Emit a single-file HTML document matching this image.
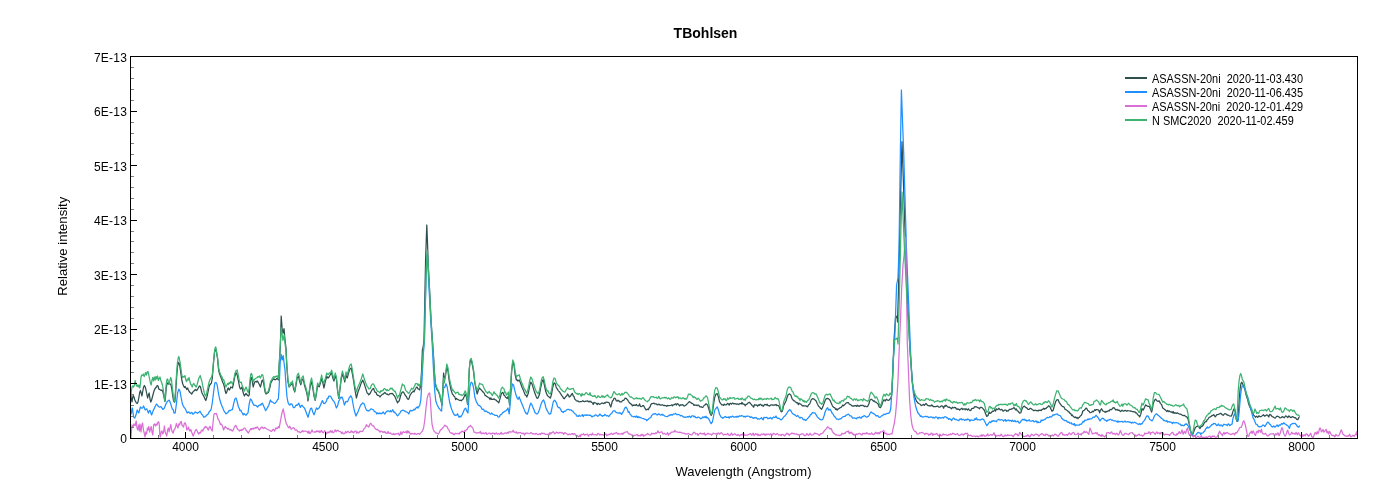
<!DOCTYPE html>
<html><head><meta charset="utf-8"><title>TBohlsen</title>
<style>
html,body{margin:0;padding:0;background:#fff;}
body{width:1400px;height:500px;overflow:hidden;position:relative;font-family:"Liberation Sans",Arial,sans-serif;}
svg{position:absolute;left:0;top:0;display:block}
svg text{font-family:"Liberation Sans",Arial,sans-serif;fill:#000}
.tk{font-size:12px}
.tky{letter-spacing:0.25px}
.lg{font-size:12.3px}
</style></head><body>
<svg width="1400" height="500" viewBox="0 0 1400 500">
<rect x="0" y="0" width="1400" height="500" fill="#fff"/>
<defs><clipPath id="cp"><rect x="131" y="57" width="1226" height="381"/></clipPath></defs>
<g clip-path="url(#cp)" fill="none" stroke-width="1.25" stroke-linejoin="round" stroke-linecap="round">
<polyline stroke="#2F4F4F" points="130.8,395 131.4,399 132,402 132.6,398 133.2,395.5 134,397 134.8,400 135.6,401.5 136.4,403 137.2,403.5 138,402 138.8,398 139.6,393 140.4,390.5 141.2,393 142,396 142.8,391 143.6,387 144.4,385.5 145.2,387 146,390 146.8,394 147.6,398 148.4,395 149.2,393 150,399 150.8,402 151.6,400 152.4,397 153.2,394 154,391 154.8,389 155.6,388 156.4,387 157.2,385.5 158,386 158.8,389 159.6,389.5 160.4,390 161.2,390.5 162,390 162.8,391.5 163.6,395 164.4,399 165,401.5 165.6,396 166.2,388 167,384 167.8,383 168.6,384 169.4,383.5 170.2,384 171,385 171.8,389 172.6,395 173.4,400 174.2,402 174.8,402 175.4,396 176,387 176.8,375 177.6,366 178.4,362.5 179,363 179.6,365 180.4,370 181.2,376 182,381 182.8,384 183.6,386 184.4,387.5 185.2,386.5 186,388 186.8,389.5 187.6,388 188.4,390 189.2,391.5 190,392.5 190.8,393 191.6,394 192.4,393 193.2,391.5 194,391 194.8,390 195.6,389.5 196.4,390.5 197.2,390 198,388.5 198.8,387 199.6,386 200.4,386.5 201.2,390 202,393 202.8,394.5 203.6,396 204.4,397.5 205.2,399.5 205.8,400.5 206.6,398 207.4,395 208.2,391 209,387 209.8,385 210.6,384 211.4,383 212.2,379 212.8,372 213.4,364 214,357.5 214.6,352 215.2,349.5 215.8,349 216.4,351.5 217,355 217.6,359 218.2,366 218.8,371 219.6,374 220.4,376 221.2,378 222,380 222.8,382.5 223.6,384 224.4,387 225.2,391 226,393.5 226.8,392 227.6,389 228.4,388 229.2,390 230,389 230.8,387 231.6,387.5 232.4,388 233.2,385 234,381 234.8,376.5 235.6,374 236.4,373 237.2,375 238,379 238.8,383 239.6,387 240.4,389 241.2,388.5 242,387 242.8,391 243.6,394 244.4,396 245.2,394.5 246,393.5 246.8,394.5 247.6,395.5 248.4,396 249.2,395 250,385 250.8,378 251.6,377.5 252.4,382 253.2,387 254,384 254.8,382 255.6,381.5 256.4,382 257.2,381 258,382 258.8,383.5 259.6,385 260.4,387 261.2,384 262,380.5 262.8,380 263.6,383 264.4,388 265.2,392.5 266,394 266.8,393.5 267.6,393 268.4,392.5 269.2,390 270,387 270.8,382.94 271.6,381.53 272.4,380.18 273.2,379.14 274,378.79 274.8,379.73 275.6,379.74 276.4,378.89 277.2,378.36 278.4,380 279.2,365 280.4,345 281.2,316 282.2,330 283,333.08 284,328.6 285,340 286,348 286.8,366 288,382 289.2,386.98 290,385.69 290.8,384.94 291.6,384.09 292.4,383 293.6,389 294.8,392 296,385 297.2,378 298.4,376.01 299.6,381.23 300.8,384.76 302,380.04 303.2,379 304.4,385 306,390.2 307.2,395 308,401 309.2,393 310.4,385 311.6,382 312.8,388 314,396 315.2,400.4 316.4,394 317.6,385 318.4,386.2 319.2,386.77 320.4,383.1 321.6,378.24 322.8,382.52 324,388 325.2,382 326.8,376 327.6,377.9 328.4,377.9 329.2,376.7 330,375.28 330.8,373.73 331.6,372.97 332.8,377.97 334,381.05 335.2,375.98 336.4,379 337.6,391 338.8,398.4 340,389 341.2,379 342.4,373.8 343.6,377.21 344.8,382 346,375 347.2,378 348.8,372 350,368.88 351.2,368 352.4,374 353.6,381 354.8,389 356.4,398 358,392 359.6,387.77 361.2,383.1 362,381.64 362.8,380.14 364,382.97 365.6,388.08 367.2,393.14 368,393.43 368.8,394.87 369.6,394.04 370.4,393 371.2,391.19 372,390.01 372.8,388.83 373.6,388.46 374.4,390.97 375.2,392.32 376,392.29 376.8,394.47 377.6,395.28 378.4,395.46 379.2,395.84 380,396.98 380.8,395.92 381.6,395.07 382.4,394.26 383.2,394.18 384,393.25 384.8,392.48 385.6,393.3 386.4,394.1 387.2,394.15 388,394.6 388.8,394.79 389.6,393.82 390.4,393.53 391.2,393.63 392,393.38 392.8,393.85 393.6,395.14 394.4,395.73 395.2,397.34 396,399.23 397.6,402.9 398.4,401.33 399.2,401 400.8,395 401.6,393.09 402.4,392.2 403.2,391.88 404,392.93 404.8,394.38 405.6,395.87 406.4,396.48 407.2,398.55 408,399.28 408.8,399.18 410,395.23 410.8,394.21 411.6,392.74 412.4,392.24 413.2,390.98 414,391.96 414.8,390.04 415.6,388.7 416.4,387.23 417.2,387.12 418,389 418.8,389.15 419.6,389.94 420.8,385 421.6,370 422.4,350 423.2,347 424,340 424.8,300 425.6,260 426.4,236 426.8,225 427.4,240 428.4,268 429.6,290 431,320 432.4,340 433.4,354 434.4,372 435.4,385 436.4,387.99 437.2,389.97 438,390.75 439.6,394.85 440.8,399.79 442,405 442.8,390 443.6,373 444.4,380 445.6,375 446.8,367 448,371 449.2,381 450.8,389 452.4,394.19 453.2,394.89 454,396.3 454.8,396.86 455.6,399.64 456.4,398.38 457.2,399.12 458,399.5 458.8,400.02 459.6,400.36 460.4,400.21 461.2,400.74 462,400.02 462.8,399.56 463.6,398.11 465.2,394.16 466.4,397 467.6,404.4 468.4,391 469.2,371 470,362 471.2,359.84 472.4,365 473.6,372 474.8,383 476,389 477.2,393.98 478.4,389.96 479.6,387.99 480.4,389.21 481.2,389.76 482,390.79 482.8,391.96 483.6,392.19 484.4,393.75 485.2,395.73 486,395.57 486.8,396.55 487.6,396.96 488.4,397.55 489.2,397.86 490,399.6 490.8,397.83 491.6,399.37 492.4,399.36 493.2,399.48 494,398.8 494.8,399.63 495.6,399.84 496.4,400.53 497.2,401.38 498,401.82 498.8,402.82 500,398.83 501.2,394.15 502.4,392.42 503.2,392.78 504,395.22 504.8,395.68 505.6,397.2 506.4,397.57 507.2,398.6 508.4,396 509.6,405 510.4,392 511.6,372 512.8,362 514,365 515.2,375 516.4,380.02 517.2,379.8 518,381.09 519.2,380.02 520.4,382.69 522,387.28 523.6,390.85 525.2,395.03 526,395.13 526.8,397.07 528.4,393 529.6,386 530.8,382.18 532,383.9 533.2,387.84 534.8,393.06 536.4,397.01 537.2,398.45 538,398.05 539.6,394 540.8,387 542,381.57 543.2,379.53 544.4,385 545.6,391 547.2,395.2 548,396.22 548.8,396.7 549.6,397.44 550.4,398.15 551.6,394 552.8,387 554,382.89 555.2,383.68 556.4,387.91 557.2,388.71 558,390.32 558.8,391.19 559.6,392.02 560.4,393.41 561.2,394.59 562,395.91 562.8,396.9 563.6,398.42 564.4,398.76 565.2,397.34 566,396.51 566.8,395.79 567.6,394.01 568.4,395.05 569.2,397 570,396.64 570.8,395.77 571.6,394.15 572.4,393.36 573.2,395.74 574,396.52 574.8,399.08 575.6,399.89 576.4,400.79 577.2,401.15 578,400.94 578.8,401.72 579.6,401.83 580.4,401.5 581.2,401.6 582,401.42 582.8,400.64 583.6,401.48 584.4,401.69 585.2,401.36 586,401.07 586.8,401.2 587.6,400.88 588.4,401.77 589.2,401.23 590,401.95 590.8,401.22 591.6,402.49 592.4,402.77 593.2,404.5 594,402.33 594.8,402.96 595.6,402.92 596.4,403.46 597.2,404.62 598,403.25 598.8,403.75 599.6,404.48 600.4,404.04 601.2,403.48 602,402.92 602.8,403.28 603.6,403.6 604.4,402.7 605.2,403.22 606,402.15 606.8,402.24 607.6,402.34 608.4,402.37 609.2,403.02 610,405.21 610.8,407 612.4,401 613.2,400.2 614,398.25 614.8,398.16 615.6,399.19 616.4,400.99 617.2,401.02 618,400.24 618.8,400.59 619.6,401.85 620.4,401.84 621.2,401.96 622,401.18 622.8,400.31 623.6,400.47 624.4,399.37 625.2,398.12 626,398.32 626.8,398.97 627.6,399.84 628.4,401.22 629.2,402.49 630,403.41 630.8,403.82 631.6,404.48 632.4,405.85 633.2,404.92 634,405.5 634.8,404.91 635.6,405.43 636.4,404.45 637.2,405.74 638,405.86 638.8,405.55 639.6,403.89 640.4,406.44 641.2,406.67 642,406.26 642.8,405.56 643.6,405.64 644.4,407.23 645.2,408.57 646,409.93 646.8,409.63 647.6,409.16 648.4,409.65 649.2,407.75 650,407.04 650.8,404.7 651.6,403.56 652.4,403.6 653.2,403.46 654,403.09 654.8,403.95 655.6,403.91 656.4,403.89 657.2,404.96 658,404.7 658.8,404.09 659.6,404.65 660.4,405.15 661.2,405.1 662,404.79 662.8,404.91 663.6,405.52 664.4,405.32 665.2,405.68 666,405.59 666.8,406.37 667.6,405.4 668.4,405.73 669.2,405.72 670,405.51 670.8,405.27 671.6,404.93 672.4,405.72 673.2,404.78 674,404.93 674.8,404.16 675.6,403.93 676.4,405.06 677.2,403.64 678,403.85 678.8,404.86 679.6,405.97 680.4,404.75 681.2,405.24 682,404.85 682.8,404.73 683.6,405.79 684.4,406.02 685.2,405.4 686,405.22 686.8,404.14 687.6,403.42 688.4,402.6 689.2,401.55 690,402.16 690.8,402.53 691.6,403.37 692.4,403.4 693.2,404 694,405.44 694.8,404.87 695.6,405.25 696.4,405.02 697.2,405.67 698,405.11 698.8,405.18 699.6,406.72 700.4,406.83 701.2,406.58 702,407.36 702.8,407.34 703.6,406.25 704.4,405.02 705.2,404.89 706,403.73 706.8,404.36 707.6,405.04 708.8,408.79 710,413.17 711.2,415.37 712.4,413 713.6,404 714.8,397 716,394.05 717.2,393.56 718.4,396.91 719.6,401.94 720.4,403.21 721.2,404.16 722,405.01 722.8,404.86 723.6,405.42 724.4,404.12 725.2,404.84 726,404.88 726.8,404.27 727.6,403.38 728.4,403.91 729.2,405.16 730,403.3 730.8,403.39 731.6,404.19 732.4,402.99 733.2,403.28 734,404 734.8,403.53 735.6,403.85 736.4,404.26 737.2,403.85 738,404.08 738.8,404.59 739.6,403.68 740.4,403.58 741.2,404.06 742,402.34 742.8,404.11 743.6,403.97 744.4,404.33 745.2,405.83 746,404.29 746.8,404.35 748,402.96 749.2,402.23 750.4,403.29 751.2,404.28 752,405.42 752.8,406.07 753.6,407.22 754.4,404.71 755.2,405.09 756,404.99 756.8,405.08 757.6,406.26 758.4,404.93 759.2,405.34 760,404.33 760.8,404.42 761.6,405.53 762.4,405.24 763.2,406.35 764,405.26 764.8,404.38 765.6,404.59 766.4,405.14 767.2,404.21 768,405.6 768.8,405.51 769.6,406.1 770.4,405.33 771.2,404.87 772,404.84 772.8,405.34 773.6,405.09 774.4,404.92 775.2,405.01 776,404.38 776.8,405.56 777.6,405.28 778.8,405.84 780,409.09 781.2,411.85 782.4,411.15 783.6,405.74 784.8,403.27 786,401 787.2,397.03 788.4,394.27 789.6,393.95 790.8,394.9 792,398.55 792.8,399.57 793.6,400.71 794.4,400.77 795.2,401.67 796,402.22 796.8,402.94 797.6,402.68 798.4,404.66 799.2,403.18 800,403.79 800.8,404.17 801.6,404.87 802.4,405.97 803.2,405.69 804,405.92 804.8,405.84 805.6,405.88 806.4,406.05 807.2,406.83 808,406.03 808.8,404.43 809.6,403.98 810.4,402.17 811.2,399.88 812.4,398.64 813.6,398.78 814.8,399.82 816,400.8 817.2,403.43 818,405.07 818.8,406.49 819.6,407 820.4,408.32 821.6,409.34 822.8,406.89 824,403.62 825.2,400.34 826.4,398.51 827.6,398.38 828.8,399.05 830,400.19 831.2,403.11 832.4,405.81 833.2,406.9 834,407.33 834.8,407.71 835.6,409.39 836.4,408.89 837.2,410.16 838,408.95 838.8,408.94 839.6,408.03 840.4,407.62 841.2,407.25 842,406.25 842.8,405.03 843.6,405.73 844.4,404.92 845.2,404.15 846,403.1 846.8,402.83 847.6,402.64 848.4,402.57 849.2,404.03 850,404.32 850.8,404.81 851.6,405.59 852.4,406.05 853.2,405.8 854,406.23 854.8,405.55 855.6,405.63 856.4,406.31 857.2,405.04 858,406.13 858.8,405.83 859.6,406.25 860.4,405.29 861.2,405.42 862,405.7 862.8,405.25 863.6,405.72 864.4,406.51 865.2,406.02 866,406.57 866.8,406.5 867.6,406.55 868.8,404.04 870,400.1 871.2,399.26 872.4,400.01 873.6,401.29 874.4,400.88 875.2,402.03 876,402.13 876.8,402.89 878,403.72 879.2,406.94 880.4,407.71 881.6,405.43 882.8,401.78 884,399.7 885.2,401.03 886.4,399.1 887.6,400.18 888.8,400.38 890,399 891.2,397.42 891.8,394 892.5,380 894,340 895.5,318 897,316 897.5,322 898.5,290 900,220 901.5,160 902,141.6 903,170 905,230 907.5,300 910,350 912.4,382 913.6,391 914.8,397 916.4,401 918,403 919.6,404 920.4,404.28 921.2,405.56 922,405.28 922.8,404.84 923.6,404.41 924.4,405.44 925.2,404.33 926,403.43 926.8,404.39 927.6,405.37 928.4,405.55 929.2,405.9 930,405.73 930.8,406.03 931.6,404.99 932.4,405.41 933.2,406.7 934,406.62 934.8,406.51 935.6,406.72 936.4,406.37 937.2,405.97 938,406.41 938.8,407.08 939.6,407.11 940.4,406.69 941.2,405.96 942,405.87 942.8,406.57 943.6,408.21 944.4,405.86 945.2,406.29 946,405.19 946.8,406.04 947.6,406.68 948.4,407.28 949.2,407.11 950,407.32 950.8,408.34 951.6,408.84 952.4,407.25 953.2,407.78 954,407.58 954.8,407.33 955.6,407.57 956.4,409.2 957.2,408.92 958,409.35 958.8,409.02 959.6,410.19 960.4,409.24 961.2,408.73 962,408.23 962.8,409.58 963.6,408.88 964.4,408.8 965.2,409.75 966,408.73 966.8,409.33 967.6,410.01 968.4,408.77 969.2,409.82 970,410.63 970.8,410.37 971.6,408.87 972.4,408.3 973.2,408.46 974,407.68 974.8,406.56 975.6,406.84 976.4,406.76 977.2,407.32 978,407.82 978.8,407.92 979.6,408.73 980.4,407.28 981.2,407.44 982,407.73 982.8,408.3 983.6,409.53 984.4,410.23 985.6,413.72 986.8,416.38 988,415.47 989.2,411.97 990,413.44 990.8,412.9 991.6,412.36 992.4,411.14 993.2,411.4 994,410.85 994.8,409.63 995.6,411.1 996.4,408.85 997.2,409.3 998,409.53 998.8,408.21 999.6,409.14 1000.4,409.96 1001.2,409.48 1002,409.65 1002.8,410.91 1003.6,411.11 1004.4,410.18 1005.2,410.16 1006,410.11 1006.8,411.36 1007.6,410.72 1008.4,410.98 1009.2,409.45 1010,409.48 1010.8,409.47 1011.6,408.79 1012.4,408.86 1013.2,408.16 1014,407.58 1014.8,408.7 1015.6,409.94 1016.4,409.01 1017.2,410.84 1018,411.02 1018.8,412.13 1019.6,413.21 1020.8,412.73 1022,409.02 1023.2,406.71 1024.4,406.15 1025.2,407.07 1026,407.67 1026.8,407.95 1027.6,409.09 1028.4,409.41 1029.2,409.46 1030,408.47 1030.8,408.44 1031.6,409.04 1032.4,409.72 1033.2,410.19 1034,410.81 1034.8,410.22 1035.6,410.2 1036.4,410.76 1037.2,410.48 1038,411.05 1038.8,410.06 1039.6,410.33 1040.4,410.22 1041.2,410.59 1042,409.4 1042.8,409.49 1043.6,408.21 1044.4,409.18 1045.2,408.5 1046,408.58 1046.8,407.36 1047.6,407.23 1048.4,405.73 1049.6,406.33 1050.8,408.65 1052,411.25 1053.2,410.28 1054.4,405.71 1055.6,401.81 1056.8,399.76 1058,399.58 1059.2,402.28 1060.4,404.04 1061.6,405.73 1062.8,406.63 1064,406.91 1065.2,409.45 1066,409.63 1066.8,410.25 1067.6,410.72 1068.4,411.81 1069.2,411.95 1070,413.36 1070.8,413.55 1071.6,415.63 1072.4,415.03 1073.2,416.5 1074,416.91 1074.8,417.6 1075.6,416.96 1076.4,418.13 1077.2,417.45 1078,418.77 1078.8,417.47 1079.6,417.27 1080.4,415.82 1081.2,415.52 1082,413.76 1082.8,410.96 1083.6,410.55 1084.4,410.21 1085.2,409.23 1086,407.96 1086.8,408.43 1087.6,410.3 1088.4,410.9 1089.2,411.41 1090,412.76 1090.8,412.56 1091.6,412.28 1092.4,411.18 1093.2,411.73 1094,410.83 1094.8,409.73 1095.6,410.4 1096.4,409.51 1097.2,409.73 1098,409.85 1098.8,410.26 1099.6,412.92 1100.4,410.42 1101.6,408.76 1102.8,410.95 1103.6,411.23 1104.4,411.65 1105.2,412.37 1106,411.26 1106.8,411.89 1107.6,411.22 1108.4,410.72 1109.2,411.1 1110,409.39 1110.8,409.55 1111.6,409.71 1112.4,408.52 1113.2,407.8 1114,407.66 1114.8,408.58 1115.6,409.79 1116.4,409.9 1117.2,409.31 1118,410.36 1118.8,410.18 1119.6,410.45 1120.4,411.57 1121.2,411.05 1122,410.21 1122.8,410.91 1123.6,411.19 1124.4,410.69 1125.2,410.37 1126,410.75 1126.8,411.28 1127.6,410.56 1128.4,410.76 1129.2,410.97 1130,411.01 1130.8,410.9 1131.6,411.22 1132.4,411.63 1133.2,411.58 1134,412.04 1134.8,411.73 1135.6,412.86 1136.4,412.8 1137.2,413.91 1138,415.01 1138.8,415.46 1139.6,416.92 1140.8,414.21 1142,408.61 1143.2,409.97 1144.4,407.61 1145.6,404.94 1146.8,405.66 1148,406.48 1149.2,406.31 1150.4,408.88 1151.6,412.12 1152.4,408.99 1153.2,403.77 1154.4,400.51 1155.6,399.17 1156.8,400.68 1158,401.39 1159.2,400.88 1160.4,403.37 1161.6,404.69 1162.8,408.1 1163.6,408.39 1164.4,409.38 1165.2,409.79 1166,410.67 1166.8,411.48 1167.6,410.38 1168.4,411.69 1169.2,410.82 1170,411.63 1170.8,412.04 1171.6,411.87 1172.4,412.78 1173.2,411.43 1174,413.41 1174.8,412.6 1175.6,413.1 1176.4,413.47 1177.2,412.84 1178,413.27 1178.8,413.7 1179.6,414.11 1180.4,414.12 1181.2,414.33 1182,415.2 1182.8,415.48 1183.6,415.67 1184.4,415.34 1185.2,415.91 1186,416.63 1186.8,416.85 1188,418.91 1189.2,424 1190.4,430.4 1191.6,433.88 1192.8,434.32 1194,431.14 1195.2,427.79 1196.4,426.59 1197.6,426.18 1198.4,426.26 1199.2,427.5 1200,428.51 1200.8,426.72 1201.6,426.69 1202.4,425.96 1203.2,425.23 1204,423.31 1204.8,422.18 1205.6,421.78 1206.4,421.57 1207.2,419.83 1208,419.11 1208.8,417.78 1209.6,417.13 1210.4,416.97 1211.2,416.37 1212,415.33 1212.8,415.72 1213.6,414.76 1214.4,415.32 1215.2,416.96 1216,415.9 1216.8,414.72 1217.6,414.63 1218.4,414.44 1219.2,414 1220,413.63 1220.8,413.36 1221.6,414.01 1222.4,415 1223.2,415.25 1224,414.37 1224.8,413.63 1225.6,413.98 1226.4,414.11 1227.2,415.2 1228,414.97 1228.8,415.46 1229.6,416 1231.2,416.12 1232.04,414.64 1232.88,411.65 1233.72,409.1 1234.56,408.76 1235.4,412 1236.24,418.3 1237.08,421.5 1237.92,420.4 1238.48,412 1239.32,398 1240.16,388.2 1241,383.31 1241.84,382.25 1242.68,384.1 1243.52,386.12 1244.36,387.76 1245.2,390.94 1246.04,394.6 1246.88,397.43 1247.72,399.86 1248.56,403.62 1249.4,406.06 1250.24,407.65 1251.08,409.46 1251.92,412.59 1252.76,413.1 1253.6,415.1 1254.44,415.9 1255.56,417.22 1256.68,416.13 1257.8,417.33 1258.92,415.77 1260.04,416.66 1261.16,416.62 1262.28,415.64 1263.4,414.76 1264.52,416.17 1265.64,415.66 1266.76,414.76 1267.6,415.21 1268.72,416.95 1269.84,414.33 1270.96,414.93 1272.08,416.59 1273.2,416.95 1274.32,417.84 1275.44,418.04 1276.56,416.26 1277.68,416.24 1278.8,416.81 1279.92,417.85 1281.04,417.73 1282.16,416.68 1283.28,417.12 1284.4,417.76 1285.52,415.97 1286.64,416.29 1287.76,417.67 1288.88,415.88 1290,417.06 1291.12,417.57 1292.24,416.72 1293.36,416.95 1294.48,417.85 1295.6,417.74 1296.72,419.45 1297.84,419.61 1298.96,417.38"/>
<polyline stroke="#1E90FF" points="130.4,406 131.2,414 132.4,408 133.6,417 134.8,417.98 136,414.78 137.2,410 138,411.62 138.8,413 140.4,407 141.2,407.7 142,408.4 142.8,407.61 143.6,405.98 145.2,409.9 146,409.31 146.8,408.9 148.4,413.07 149.2,410.9 150,410.34 151.6,414.94 153.2,410.63 154.8,407.14 155.6,405.69 156.4,404.03 157.2,404.87 158,406.07 158.8,406.68 159.6,407.14 160.4,406.68 161.2,406.93 162,408.04 162.8,409.44 163.6,408.88 164.4,408.05 166,403.83 166.8,402.44 167.6,401.13 168.4,400.72 169.2,400.06 170.8,404.07 172.4,409.24 173.2,409.66 174,413.03 175.2,413 176.4,404 177.6,393 178.8,389.13 180,391 181.2,398 182.4,404 183.2,405.81 184,407.05 184.8,408.23 185.6,409.37 186.4,411.37 187.2,413.06 188,412.22 188.8,411.91 189.6,413.05 190.4,413.5 191.2,412.68 192,412.46 192.8,414.2 193.6,413.95 194.4,412.93 195.2,411.86 196,412.53 196.8,412.67 197.6,413.29 198.4,412.44 199.2,411.94 200,411.22 200.8,412.58 201.6,414.21 202.4,414.74 203.2,416.12 204,417.31 204.8,416.88 205.6,416.31 206.4,415.46 207.2,414.82 208,414.32 208.8,412.62 209.6,411.14 210.4,410.78 211.2,409 212.4,402 213.6,392 214.8,383 216,382.43 217.2,385 218.4,393 219.6,399 221.2,404.25 222.8,407.88 223.6,409.92 224.4,411.66 225.2,412.55 226,413.93 226.8,413.29 227.6,412.79 228.4,411.57 229.2,410.39 230,410.77 230.8,410.26 231.6,409.62 232.4,409.54 233.6,404.03 234.8,399.18 236,397.89 237.2,401.74 238.4,406.74 239.2,408.23 240,410.7 240.8,410.2 241.6,412.09 242.4,413.07 243.2,414.9 244,413.66 244.8,414.07 245.6,415.06 246.4,414.8 247.2,413.54 248,413 249.2,404 250.4,398.92 251.6,400.23 252.8,403.15 253.6,404.68 254.4,405.46 255.2,405.41 256,405.38 256.8,406.21 257.6,407.2 258.4,405.85 259.2,405.24 260,404.92 260.8,405.13 261.6,403.67 262.4,403.24 264,406.82 264.8,408.7 265.6,410.64 266.4,409.48 267.2,408.08 268,406.63 268.8,405.24 270.4,400 271.2,401.21 272,402.1 272.8,402.15 273.6,402.92 274.4,403.47 275.2,403.22 276,402.17 276.8,401.09 277.6,399.58 278.4,399 279.2,386 280.2,362 281.2,354.4 282.2,360 283.2,355.6 284.2,364 285,370 286,385 287,397 288,402.4 289.2,404.77 290,405.07 290.8,403.97 291.6,403.82 292.4,404.84 293.2,407.23 294,407.87 294.8,407.24 295.6,405.86 296.4,404.84 297.2,405.35 298,404.4 298.8,403.1 299.6,405.46 300.4,407.42 301.2,405.59 302,405.25 302.8,406.4 303.6,407.26 304.4,408.01 305.2,409.75 306.8,414.03 308,417.27 309.2,413 310.4,408.89 311.6,408.11 312.8,412.01 314,414.82 315.2,411.62 316.4,407.87 317.6,409.27 318.4,408.21 319.2,407.88 320.8,404.14 321.6,402.59 322.4,400.57 323.2,402.19 324,403.73 324.8,403.39 325.6,402.53 326.4,401.12 327.2,398.48 328,398.52 328.8,396.06 329.6,396.07 330.4,396.07 331.2,397.26 332,398.93 332.8,400.02 333.6,401.01 334.4,402.15 335.2,404.14 336.4,407.98 337.6,405.78 338.8,400.99 339.6,399.8 340.4,397.43 341.2,397.81 342,396.89 343.2,400.1 344.4,405.07 346,401.29 346.8,401.72 347.6,401.87 349.2,397.7 350,397.05 350.8,395.76 352,398 353.2,405 354.4,411 356,416 356.8,413.91 357.6,412.85 359.2,408.65 360.8,404.69 361.6,404.41 362.4,402.93 363.2,403.26 364,403.64 365.6,408.15 366.4,409.86 367.2,410.78 368,410.43 368.8,410.99 369.6,410.43 370.4,409.33 371.2,408.8 372,409.2 372.8,409.75 373.6,409.89 374.4,411.73 375.2,411.73 376,412.23 376.8,413.98 377.6,412.89 378.4,413.69 379.2,412.96 380,413.85 380.8,413.12 381.6,413.68 382.4,413.1 383.2,411.94 384,413.14 384.8,414.18 385.6,412.68 386.4,411.73 387.2,410.99 388,410.77 388.8,411.31 389.6,411.59 390.4,410.51 391.2,411.86 392,410.82 392.8,409.72 393.6,412.09 394.4,411.82 395.2,413.08 396,413.74 396.8,415.01 397.6,415.86 398.4,415.12 399.2,413.8 400,413.1 400.8,411.36 401.6,410.71 402.4,410.27 403.2,410.24 404,410.61 404.8,411.05 405.6,411.75 406.4,411.94 407.2,412.09 408,412.84 408.8,413.97 410,410.79 410.8,410.39 411.6,410.9 412.4,410.7 413.2,410.15 414,409.21 414.8,409.94 415.6,408.52 416.4,407.62 417.2,406.98 418,408.13 418.8,406.52 419.6,406 420.8,400 422,380 423.2,356 424.4,340 425.4,300 426.2,272 427,255 427.8,264 429,288 430.6,318 432,340 432.8,356 433.8,376 434.8,392 435.8,401 437.2,404.99 438,406.36 438.8,408.27 439.6,408.71 440.4,410.15 441.6,411 442.4,400 443.6,388 444.8,387.23 446,383.73 447.2,387 448.4,395 449.6,402 451.2,408 452.8,412.11 453.6,413.59 454.4,414.84 455.2,415.52 456,415.15 456.8,415.02 457.6,413.73 458.4,416.17 459.2,417.27 460,416.07 460.8,416.87 461.6,415.65 462.4,414.2 464,410.33 464.8,408.84 465.6,408.09 466.8,411.13 468,413 468.8,400 470,386 471.2,382.12 472.4,383.14 473.6,388 474.8,397 476.4,402.02 477.2,403.13 478,404.8 478.8,405.52 479.6,405.69 480.4,406.42 481.2,407.46 482,409.17 482.8,409.42 483.6,409.15 484.4,410.93 485.2,411.58 486,410.99 486.8,411.51 487.6,412.34 488.4,412.38 489.2,412.92 490,413.91 490.8,414.05 491.6,412.97 492.4,413.89 493.2,414.51 494,414.66 494.8,415.38 495.6,415.35 496.4,415.42 497.2,415.43 498,416.99 498.8,417.08 499.6,416.6 500.4,414.56 501.2,414.46 502,413.81 502.8,412.39 503.6,412.49 504.4,411.38 505.2,411.19 506,410.76 506.8,410.1 508,408 509.2,414 510,406 511.2,392 512.4,384 513.6,385.03 514.8,390.4 516,395.07 517.6,398.99 518.4,399.07 519.2,396.83 520,399.37 520.8,401.17 522.4,405.05 524,409.13 525.6,413.03 526.4,413.19 527.2,414.33 528.4,411.17 529.6,406.54 530.8,403.11 532,404.94 533.2,408.14 534,409.7 534.8,412.43 535.6,413.06 536.4,413.83 537.2,413.84 538,413.11 539.6,409.18 541.2,403.67 542.4,401.19 543.6,399.94 544.8,403.06 546,408.02 546.8,409.96 547.6,411.16 548.4,412.79 549.2,413.94 550,414.16 550.8,413.25 552,408 553.2,402 554.4,400.18 555.6,401.22 556.8,403.99 557.6,406.64 558.4,407.51 559.2,407.43 560,408.29 560.8,409.69 561.6,411.39 562.4,411.73 563.2,412.62 564,411.22 564.8,411.41 565.6,411.23 566.4,410.01 567.2,409.51 568,409.29 568.8,409.41 569.6,410.09 570.4,409.91 571.2,409.82 572,410.87 572.8,411.16 573.6,412.36 574.4,413.03 575.2,414.03 576,414.38 576.8,416.18 577.6,416.1 578.4,416.3 579.2,415.15 580,416.16 580.8,416.03 581.6,415.75 582.4,414.55 583.2,416.57 584,415.14 584.8,415.05 585.6,414.79 586.4,415.43 587.2,414.8 588,415.33 588.8,415.02 589.6,415.4 590.4,415.16 591.2,416 592,416.92 592.8,416.23 593.6,416.07 594.4,415.82 595.2,414.96 596,415.04 596.8,415.42 597.6,416.27 598.4,415.93 599.2,414.98 600,414 600.8,415.13 601.6,415.55 602.4,416.32 603.2,415.55 604,415.64 604.8,414.42 605.6,415.09 606.4,415.94 607.2,415.44 608,415.83 608.8,416.6 609.6,415.49 610.4,414.43 611.2,413.66 612,412.93 612.8,411.28 613.6,410.95 614.4,410.74 615.2,411.36 616,412.35 616.8,412.71 617.6,412.8 618.4,413.06 619.2,413.14 620,412.65 620.8,413.53 621.6,414.34 622.4,412.92 623.6,411 624.8,407.92 626,407.04 627.2,408.92 628.4,412.48 629.2,411.84 630,414.13 630.8,414.8 631.6,416.15 632.4,416.25 633.2,416.76 634,416.79 634.8,416.36 635.6,417.05 636.4,415.98 637.2,417.51 638,416.45 638.8,417.64 639.6,417.12 640.4,417.6 641.2,417.8 642,418.27 642.8,418.49 643.6,418.65 644.4,419.14 645.2,419.44 646,419.28 646.8,420.8 647.6,419.53 648.4,419.49 649.2,418.12 650,417.87 650.8,417.52 651.6,415.54 652.4,414.86 653.2,413.97 654,414.13 654.8,413.67 655.6,413.59 656.4,414.49 657.2,415.06 658,414.42 658.8,413.76 659.6,414.67 660.4,415.03 661.2,414.98 662,414.04 662.8,415.26 663.6,414.93 664.4,415.91 665.2,416.14 666,416.34 666.8,416.51 667.6,416.59 668.4,415.58 669.2,415.6 670,414.73 670.8,415.12 671.6,414.53 672.4,415.13 673.2,414.14 674,414.11 674.8,413.85 675.6,413.32 676.4,414.52 677.2,414.8 678,414.26 678.8,414.68 679.6,414.76 680.4,415.94 681.2,415.71 682,415.56 682.8,416.56 683.6,417.08 684.4,416.99 685.2,417.41 686,417.19 686.8,417.14 687.6,416.57 688.4,417.09 689.2,416.16 690,416.52 690.8,417.51 691.6,416.18 692.4,415.79 693.2,415.81 694,416.94 694.8,416.13 695.6,417.56 696.4,417.51 697.2,417.94 698,416.99 698.8,417.28 699.6,417.72 700.4,418.64 701.2,418.67 702,418 702.8,416.98 703.6,417.61 704.4,416.69 705.2,417.61 706,416.28 706.8,417.86 707.6,417.58 708.8,419.13 710,421.56 711.2,423.68 712.4,422 713.6,416 714.8,410 716,408.35 717.2,406.79 718.4,409.92 719.6,414.52 720.4,415.91 721.2,417.25 722,417.44 722.8,418.41 723.6,417.55 724.4,417.04 725.2,416.58 726,417.29 726.8,417.24 727.6,417.48 728.4,416.91 729.2,418.21 730,416.54 730.8,416.8 731.6,417.11 732.4,416.13 733.2,416.47 734,417.21 734.8,417.02 735.6,416.66 736.4,417.15 737.2,416.14 738,417.14 738.8,416.25 739.6,415.95 740.4,416.05 741.2,415.74 742,415.85 742.8,415.9 743.6,416.8 744.4,416.39 745.2,416.99 746,416.14 746.8,416.31 748,416 749.2,416.49 750.4,417.47 751.2,416.75 752,417.25 752.8,417.91 753.6,418.33 754.4,417.65 755.2,417.82 756,417.48 756.8,418.29 757.6,419.08 758.4,418.7 759.2,419.18 760,418.85 760.8,418.25 761.6,417.56 762.4,419.26 763.2,419.8 764,417.3 764.8,417.56 765.6,417.63 766.4,417.18 767.2,417.74 768,418.77 768.8,418.12 769.6,418.39 770.4,417.45 771.2,418.25 772,419.02 772.8,417.7 773.6,417 774.4,417.34 775.2,417.37 776,416.01 776.8,417.73 777.6,418.35 778.8,418.17 780,419.13 781.2,419.91 782.4,418.88 783.6,416.98 784.8,416.11 786,414.65 787.2,412.71 788.4,410.98 789.6,409.55 790.8,410.62 792,412.82 792.8,413.81 793.6,414.3 794.4,414.62 795.2,415.14 796,415.89 796.8,416.45 797.6,415.31 798.4,416.37 799.2,417.28 800,418.05 800.8,417.33 801.6,417.76 802.4,417.92 803.2,419.77 804,419.69 804.8,419.46 805.6,420.55 806.4,419.92 807.2,418.89 808,418.14 808.8,416.92 809.6,416.43 810.4,414.62 811.2,414.44 812.4,412.68 813.6,412.81 814.8,412.75 816,414.64 817.2,416.64 818,417.56 818.8,418.34 819.6,419.05 820.4,419.65 821.6,419.94 822.8,419.19 824,416.03 825.2,411.78 826.4,409.25 827.6,407.7 828.8,410.25 830,409.15 831.2,411.14 832.4,413.63 833.2,414.32 834,415.89 834.8,416.81 835.6,417.55 836.4,419.02 837.2,419.03 838,419.25 838.8,419.63 839.6,418.91 840.4,418.99 841.2,418.57 842,417.61 842.8,416.87 843.6,416.72 844.4,416.26 845.2,416.29 846,415.03 846.8,415.1 847.6,414.53 848.4,414.15 849.2,414.9 850,415.91 850.8,415.95 851.6,416.29 852.4,418.15 853.2,418.06 854,417.96 854.8,417.94 855.6,418.52 856.4,418.79 857.2,417.66 858,417.47 858.8,417.78 859.6,416.99 860.4,417.88 861.2,418.24 862,416.66 862.8,416.76 863.6,415.97 864.4,415.66 865.2,416.27 866,416.86 866.8,417.18 867.6,416.62 868.8,415.96 870,413.44 871.2,411.97 872.4,413.07 873.6,413.27 874.4,414.28 875.2,414.77 876,415.98 876.8,415.54 878,415.83 879.2,417.42 880.4,417.08 881.6,415.88 882.8,415.41 884,414.2 885.2,414.57 886.4,413.66 887.6,413.38 888.8,413.47 890,411.71 890.8,408 891.6,396 892.4,380 893.2,360 894.5,345 896.6,285 898,278 899,250 900.4,150 901.4,90 903.8,156 906.5,250 910.5,350 912,380 913.2,392 914.4,400 915.6,406 916.8,410 918,413 919.6,414.85 920.4,416.33 921.2,415.98 922,416.75 922.8,417.25 923.6,416.76 924.4,416.58 925.2,416.24 926,416.85 926.8,416.66 927.6,416.37 928.4,417.44 929.2,417.59 930,417.03 930.8,416.89 931.6,417 932.4,417.76 933.2,417.14 934,418.04 934.8,417.9 935.6,416.9 936.4,417.06 937.2,417.51 938,418.92 938.8,417.34 939.6,417.89 940.4,417.71 941.2,418.23 942,417.8 942.8,417.44 943.6,418.07 944.4,416.77 945.2,416.84 946,416.86 946.8,417.8 947.6,417.78 948.4,419.33 949.2,418.55 950,419.18 950.8,419.43 951.6,420.62 952.4,419.3 953.2,418.17 954,418.1 954.8,419.43 955.6,419.74 956.4,419.37 957.2,419.98 958,420.42 958.8,420.65 959.6,419.11 960.4,419.37 961.2,418.57 962,419.8 962.8,419.46 963.6,419.34 964.4,420.34 965.2,420.06 966,419.51 966.8,420.09 967.6,418.97 968.4,419.38 969.2,419.86 970,421.21 970.8,419.85 971.6,420.12 972.4,420.23 973.2,420.28 974,420.26 974.8,418.74 975.6,419.4 976.4,417.8 977.2,419.89 978,419.5 978.8,419.77 979.6,419.8 980.4,420.03 981.2,419.64 982,418.97 982.8,419.17 983.6,419.35 984.4,420.97 985.6,423.24 986.8,425.7 988,424.23 989.2,422.2 990,421.92 990.8,422.71 991.6,421.06 992.4,421.47 993.2,420.5 994,421.18 994.8,420.87 995.6,421.26 996.4,421.77 997.2,420.18 998,419.79 998.8,419.19 999.6,419.97 1000.4,420.06 1001.2,419.53 1002,419.83 1002.8,420.08 1003.6,421.19 1004.4,420.16 1005.2,419.44 1006,421.38 1006.8,420.41 1007.6,420.36 1008.4,419.95 1009.2,420.88 1010,420.39 1010.8,420.51 1011.6,421.22 1012.4,420.11 1013.2,421.35 1014,421.51 1014.8,420.35 1015.6,421.64 1016.4,421.78 1017.2,421.45 1018,421.1 1018.8,422.79 1019.6,423.16 1020.4,422.28 1021.2,420.79 1022,420.08 1022.8,419.14 1023.6,419.95 1024.4,419.09 1025.2,420.38 1026,419.94 1026.8,421.01 1027.6,420.69 1028.4,420.72 1029.2,419.66 1030,421.04 1030.8,421.24 1031.6,421.12 1032.4,420.7 1033.2,420.64 1034,421.84 1034.8,421.61 1035.6,420.94 1036.4,421.13 1037.2,422.8 1038,421.48 1038.8,422.73 1039.6,422.48 1040.4,422.19 1041.2,420 1042,420.88 1042.8,419.98 1043.6,420.21 1044.4,419.38 1045.2,419.3 1046,418.31 1046.8,417.79 1047.6,417.37 1048.4,417.72 1049.2,417.2 1050,416.54 1050.8,417 1051.6,416.9 1052.4,415.49 1053.2,414.74 1054,415.17 1054.8,414.6 1055.6,414.27 1056.4,414.17 1057.2,413.98 1058,414.82 1059.2,415.44 1060.4,415.74 1061.6,417.97 1062.8,419.35 1064,420.07 1064.8,420.69 1065.6,420.68 1066.4,420.59 1067.2,421.84 1068,422.44 1068.8,421.97 1069.6,423.15 1070.4,423.22 1071.2,422.68 1072,424.24 1072.8,423.89 1073.6,424.78 1074.4,423.6 1075.2,425.75 1076,424.91 1076.8,425.16 1077.6,425.08 1078.4,425.05 1079.2,425.23 1080,424.19 1080.8,424.36 1081.6,424 1082.4,422.63 1083.2,421.25 1084,421.91 1084.8,420.2 1085.6,420.34 1086.4,420.01 1087.2,419.79 1088,418.79 1088.8,419.71 1089.6,418.76 1090.4,418.75 1091.2,418.97 1092,418.45 1092.8,417.41 1093.6,417.04 1094.4,417.39 1095.2,416.4 1096,415.23 1096.8,416.22 1097.6,416.9 1098.8,418.93 1100,420.87 1101.2,419.19 1102.4,418.21 1103.6,418.52 1104.4,419.93 1105.2,420.04 1106,420.34 1106.8,421.4 1107.6,420.17 1108.4,420.1 1109.2,419.9 1110,419.33 1110.8,419.3 1111.6,420.17 1112.4,419.99 1113.2,420.62 1114,420.79 1114.8,420.94 1115.6,420.84 1116.4,421.31 1117.2,422.15 1118,420.91 1118.8,422.02 1119.6,421.59 1120.4,421.68 1121.2,421.56 1122,421.28 1122.8,422.01 1123.6,422.06 1124.4,421.41 1125.2,421.06 1126,422.04 1126.8,422 1127.6,421.6 1128.4,421.59 1129.2,422.32 1130,421.94 1130.8,422.44 1131.6,423.18 1132.4,422.22 1133.2,422.8 1134,422.75 1134.8,422.21 1135.6,422.76 1136.4,423.3 1137.2,423.77 1138,424.16 1138.8,424.31 1139.6,423.56 1140.4,424.64 1141.2,423.58 1142,423.93 1142.8,422.22 1143.6,421.32 1144.8,419.9 1146,417.13 1147.2,415.78 1148.4,416.42 1149.6,419.23 1150.8,420.11 1152,420.97 1153.2,418.96 1154.4,415.91 1155.6,414.42 1156.8,413.84 1158,415.23 1159.2,416.07 1160.4,417.29 1161.6,418.46 1162.8,419.08 1163.6,420.54 1164.4,420.28 1165.2,420.99 1166,421.21 1166.8,420.59 1167.6,422.14 1168.4,421.79 1169.2,421.62 1170,422.09 1170.8,422.13 1171.6,422.67 1172.4,423.62 1173.2,422.16 1174,422.69 1174.8,423.04 1175.6,422.71 1176.4,422.61 1177.2,423 1178,423.04 1178.8,423.65 1179.6,424.22 1180.4,424.24 1181.2,425.69 1182,425.05 1182.8,425.39 1183.6,425.82 1184.4,425.34 1185.2,423.96 1186,424.36 1186.8,423.85 1187.6,425.06 1188.4,426.18 1189.6,428.89 1190.8,431.93 1192,434.65 1193.2,436.01 1194.4,435.7 1195.6,435.26 1196.8,433.7 1198,432.38 1199.2,432.8 1200,432.85 1200.8,434.37 1201.6,433.16 1202.4,433.05 1203.2,432.7 1204,431.62 1204.8,431.1 1205.6,428.73 1206.4,428.5 1207.2,426.8 1208,427.94 1208.8,427.78 1209.6,427.1 1210.4,426.23 1211.2,425.49 1212,424.42 1212.8,424.72 1213.6,423.34 1214.4,423.71 1215.2,423.52 1216,424.67 1216.8,425.68 1217.6,424.97 1218.4,423.9 1219.2,425.45 1220,425.75 1220.8,424.9 1221.6,425.23 1222.4,426.26 1223.2,425.22 1224,424.21 1224.8,424.56 1225.6,424.7 1226.4,424.78 1227.2,425.68 1228,424.16 1228.8,423.98 1229.6,425.68 1231.2,424.51 1232.04,424.13 1232.88,418.97 1233.72,415.93 1234.56,413.48 1235.4,415.99 1236.24,418.99 1237.08,420.51 1237.92,421.21 1238.76,416.2 1239.6,406.4 1240.44,396.6 1241.28,389.6 1242.12,386.18 1242.96,385.73 1243.8,386.89 1244.64,388.5 1245.48,390.37 1246.32,393.92 1247.16,395.38 1248,398.02 1248.84,401.04 1249.68,404.78 1250.52,408.18 1251.36,411.14 1252.2,414.55 1253.04,417.59 1253.88,419.09 1254.72,421.04 1255.84,424.14 1256.96,424.37 1258.08,426.14 1259.2,427.01 1260.32,426.59 1261.44,426.63 1262.56,425.2 1263.68,425.23 1264.8,426.62 1265.92,424.94 1267.04,422.71 1268.16,422.03 1269.28,423.68 1270.4,424.68 1271.52,426.5 1272.64,427.06 1273.76,425.98 1274.88,427.16 1276,426.21 1277.12,424.93 1278.24,426.55 1279.36,424.91 1280.48,425.16 1281.6,423.51 1282.72,424.13 1283.84,422.81 1284.96,423.96 1286.08,424.57 1287.2,425.56 1288.32,426.22 1289.44,428.36 1290.56,424.52 1291.68,424.08 1292.8,423.27 1293.92,423.56 1295.04,423.26 1296.16,424.67 1297.28,426.3 1298.4,427.21 1299.52,426.03"/>
<polyline stroke="#DA70D6" points="131,438 131.4,432 132,425 133,427 134,424 135.2,425.5 136.2,421 137,428 137.8,430 138.6,425 139.4,431 140,424 141,432 141.8,425 142.6,423 143.4,430 144.2,433 145,437 145.8,432 146.6,434 147.4,428 148,430 148.8,426.5 149.6,432 150.4,429 151.2,426.5 152,432 152.8,435 153.6,425 154.6,424 155.4,426 156.2,424 157,425 158,422 158.8,421.8 159.4,426 159.8,435 160.4,437 161.2,432 162,431 162.8,434 163.6,432 164.4,426 165.2,432 166,434 166.8,436 167.6,430 168.4,428 169.2,432 170,428 170.8,424.5 171.6,430 172.4,432 173.2,433 174,430 174.8,429 175.6,427 176.4,423.5 177.2,426 178,428 178.8,424 179.6,425 180.4,422 181.2,421.5 182,425 182.8,426 183.6,427 184.4,423 185.2,422.8 186,425 186.8,430 187.6,429 188.4,427 189.2,430 190,431 190.8,429.5 191.6,432 192.4,434 193.2,436 194,434 194.8,432 195.6,430 196.4,429.5 197.2,431 198,433 198.8,434 199.6,432.5 200.4,433 201.2,431 202,430 202.8,431 203.6,429 204.4,428 205.2,426.5 206,427.5 206.8,427 207.6,429 208.4,430 209.2,427.5 210,426.5 210.8,428.5 211.6,430 212.2,431 212.8,425 213.4,419 214,414 214.8,413.5 215.6,414 216.4,413.5 217.2,416 218,419 218.8,420 219.6,422 220.4,424.5 221.2,424 222,425 222.8,427 223.6,430 224.4,428 225.2,426.5 226,427.5 226.8,428 227.6,429 228.4,428.5 229.2,429.5 230,430 230.8,429.5 231.6,430.5 232.4,431 233.2,430 234,428 234.8,426.5 235.6,425.5 236.4,426.5 237.2,428.5 238,429.5 238.8,430 239.6,431 240.4,430 241.2,430.5 242,429.5 242.8,430 243.6,428.5 244.4,428 245.2,428.5 246,430 246.8,431 247.6,432 248.4,433 249.2,431.5 250,430 250.8,428.5 251.6,429.5 252.4,428.5 253.2,429 254,428 254.8,428.5 255.6,427.5 256.4,428 257.2,427 258,427.8 258.8,429.5 259.6,430 260.4,428.5 261.2,427.5 262,427 262.8,428 263.6,428.5 264.4,427.5 265.2,427.8 266,428.5 266.8,429 267.6,429.5 268.4,429.8 269.2,430 270,430.5 270.4,430.93 271.2,431.43 272,430.94 272.8,429.67 273.6,429.23 274.4,431.09 275.2,429.8 276,427.77 276.8,428.72 277.6,428.13 278.4,426.64 279.2,427.83 280,423.73 280.8,419.07 281.6,414.76 282.4,411.37 283.2,408.89 284,412.88 284.8,417.04 285.6,420.99 286.4,424.13 287.2,424.92 288,426.86 288.8,427.96 289.6,426.15 290.4,427.57 291.2,429.22 292,428.3 292.8,428.16 293.6,427.6 294.4,428.34 295.2,430.2 296,430.23 296.8,429.95 297.6,431.58 298.4,431.82 299.2,431.46 300,432.76 300.8,432.44 301.6,431.5 302.4,430.57 303.2,431.72 304,431.03 304.8,431.21 305.6,431.13 306.4,431.58 307.2,431.58 308,433.33 308.8,430.99 309.6,433.28 310.4,433.07 311.2,431.9 312,429.95 312.8,431.74 313.6,432.01 314.4,432.18 315.2,431.63 316,432.13 316.8,430.75 317.6,431.45 318.4,431.13 319.2,432.39 320,430.75 320.8,432.24 321.6,430.56 322.4,432.05 323.2,432.92 324,431.67 324.8,430.73 325.6,431.91 326.4,433.9 327.2,432.83 328,431.78 328.8,432.79 329.6,432.08 330.4,430.74 331.2,432.23 332,430.68 332.8,432.6 333.6,432.54 334.4,431.28 335.2,429.84 336,431.83 336.8,430.72 337.6,430.18 338.4,430.78 339.2,431.48 340,431.55 340.8,431.76 341.6,433.55 342.4,432.05 343.2,433.66 344,433.83 344.8,433.25 345.6,431.48 346.4,432.81 347.2,431.85 348,431.08 348.8,432.27 349.6,432.57 350.4,432.3 351.2,430.79 352,432.09 352.8,431.63 353.6,432.87 354.4,431.9 355.2,431.05 356,431.05 356.8,433.27 357.6,431.83 358.4,432.97 359.2,432.4 360,431.06 360.8,431.53 361.6,431.26 362.4,431.63 363.2,430.31 364,428.68 364.8,428.21 365.6,426.67 366.4,424.64 367.2,426.08 368,426.08 368.8,427.02 369.6,425.07 370.4,423.27 371.2,423.78 372,425.39 372.8,426.09 373.6,425.76 374.4,427.53 375.2,428.52 376,429.13 376.8,429.78 377.6,429.3 378.4,430.72 379.2,430.72 380,432.12 380.8,431.09 381.6,431.03 382.4,432.2 383.2,431.75 384,432.39 384.8,431.55 385.6,432.93 386.4,432.92 387.2,433.5 388,431.43 388.8,433.07 389.6,433.37 390.4,432.89 391.2,433.94 392,434.12 392.8,434.51 393.6,433.46 394.4,434.65 395.2,434.17 396,433.73 396.8,433.91 397.6,433.81 398.4,433.09 399.2,435.35 400,434.71 400.8,431.74 401.6,434.38 402.4,432.91 403.2,431.62 404,432.38 404.8,432.4 405.6,431.63 406.4,432.96 407.2,430.73 408,433 408.8,431.26 410,433.48 410.8,434.24 411.6,433.29 412.4,433.63 413.2,433.71 414,434.26 414.8,433.22 415.6,433.91 416.4,434.44 417.2,433.87 418,433.69 418.8,433.59 419.6,434.31 420.4,433.13 421.2,432.33 422.4,431.06 423.6,428 424.8,420 426,408 427.2,398 428.4,393.91 429.6,393 430.4,400 431.2,414 432,424 433.2,429.25 434.4,431.76 435.2,432.03 436,433.05 436.8,433.06 437.6,433.44 438.4,434.03 439.2,432.74 440,430.83 440.8,429.54 441.6,429.29 442.4,428.19 443.2,427.5 444,426.42 444.8,425.14 445.6,426.03 446.8,426.14 448,428.87 448.8,429.62 449.6,431.76 450.4,432.98 451.2,432.76 452,433.66 452.8,433.06 453.6,434.63 454.4,434.73 455.2,433.24 456,433.54 456.8,433.67 457.6,433.27 458.4,433.68 459.2,434.16 460,432.42 460.8,432.57 461.6,431.49 462.4,431.03 463.2,431.89 464,432.33 464.8,430.39 465.6,431.17 466.4,429.43 467.2,429.44 468,427.61 468.8,426.54 469.6,426.66 470.4,425.31 471.6,426.78 472.8,427.92 474,432.03 475.2,432.35 476.4,433.21 477.2,433.1 478,432.55 478.8,432.96 479.6,432.58 480.4,431.47 481.2,433.79 482,433.06 482.8,433.55 483.6,432.86 484.4,433.74 485.2,433.13 486,432.52 486.8,434.42 487.6,433.93 488.4,433.41 489.2,433.01 490,433.1 490.8,434.16 491.6,433.51 492.4,433.17 493.2,433.34 494,433.03 494.8,434.32 495.6,433.53 496.4,432.91 497.2,434.26 498,433.77 498.8,433.48 499.6,434.32 500.4,433.66 501.2,432.33 502,434.15 502.8,433.96 503.6,433.91 504.4,433.33 505.2,432.86 506,432.97 506.8,433.63 507.6,432.45 508.4,433.08 509.2,431.61 510,431.88 510.8,432.15 511.6,431.94 512.4,431.8 513.2,430.2 514,432.14 514.8,432.15 515.6,432.6 516.4,431.83 517.2,433.58 518,433 518.8,432.4 519.6,432.92 520.4,432.44 521.2,433.16 522,433.74 522.8,433.18 523.6,433.02 524.4,435.13 525.2,433.6 526,433.13 526.8,433.2 527.6,433.12 528.4,433.5 529.2,433.74 530,433.48 530.8,432.73 531.6,432.93 532.4,433.99 533.2,433.72 534,433.78 534.8,434.17 535.6,433.62 536.4,433.49 537.2,434.17 538,434.64 538.8,434.23 539.6,433.71 540.4,434.56 541.2,433.37 542,433.08 542.8,433.55 543.6,433.35 544.4,433.29 545.2,434.37 546,434.48 546.8,434.45 547.6,434.55 548.4,433.89 549.2,434.78 550,432.47 550.8,433.99 551.6,432.87 552.4,432.31 553.2,431.67 554,432.74 554.8,433.8 555.6,433.28 556.4,431.97 557.2,432.9 558,432.72 558.8,433.3 559.6,432.35 560.4,432.34 561.2,433.13 562,432.49 562.8,433.17 563.6,434.29 564.4,433.12 565.2,432.57 566,433.4 566.8,433.52 567.6,434.75 568.4,434.72 569.2,433.94 570,434.59 570.8,434.48 571.6,433.6 572.4,433.51 573.2,434.52 574,433.55 574.8,433.9 575.6,435.02 576.4,435.91 577.2,435.37 578,436.51 578.8,436.79 579.6,435.3 580.4,436.63 581.2,434.24 582,434.63 582.8,434.7 583.6,433.78 584.4,435.19 585.2,434.43 586,434.92 586.8,434.08 587.6,434.36 588.4,436.17 589.2,435.04 590,434.28 590.8,434.45 591.6,435.12 592.4,433.19 593.2,434.72 594,434.8 594.8,434.7 595.6,434.53 596.4,435.08 597.2,434.89 598,433.28 598.8,433.76 599.6,434.99 600.4,434.4 601.2,434.87 602,434.52 602.8,434.54 603.6,435.15 604.4,434.68 605.2,434.3 606,433.91 606.8,435.83 607.6,434.94 608.4,434.81 609.2,434.19 610,434.66 610.8,433.76 611.6,433.23 612.4,434.39 613.2,434.49 614,433.21 614.8,433.6 615.6,433.09 616.4,432.49 617.2,433.49 618,434.19 618.8,433.44 619.6,433.86 620.4,434.04 621.2,434.1 622,433.22 622.8,434.33 623.6,433.15 624.8,432.38 626,432 627.2,431.7 628.4,433.3 629.2,434.28 630,433.84 630.8,434.6 631.6,435.15 632.4,434.96 633.2,436.57 634,435.46 634.8,435.45 635.6,435.24 636.4,434.69 637.2,434.49 638,435.98 638.8,435.27 639.6,435.68 640.4,435.96 641.2,434.36 642,435.48 642.8,434.34 643.6,436.37 644.4,435.35 645.2,435.39 646,434.7 646.8,434.6 647.6,433.45 648.4,434.14 649.2,434.79 650,435.1 650.8,435 651.6,433.25 652.4,433.82 653.2,433.36 654,433.55 654.8,433.89 655.6,432.74 656.4,433.25 657.2,432.78 658,430.82 658.8,432.7 659.6,432.8 660.4,432.19 661.2,431.99 662,431.94 662.8,433.89 663.6,433.76 664.4,433.29 665.2,433.99 666,434.5 666.8,434.04 667.6,432.64 668.4,435.3 669.2,433.66 670,433.79 670.8,432.62 671.6,432.13 672.4,432.15 673.2,431.81 674,432.01 674.8,430.34 675.6,431.76 676.4,431.93 677.2,431.89 678,432.22 678.8,432.56 679.6,432.14 680.4,432.48 681.2,432.35 682,433.19 682.8,433.24 683.6,433.2 684.4,433.33 685.2,433.96 686,434.12 686.8,433.75 687.6,434.1 688.4,433.56 689.2,434.08 690,434.56 690.8,434.51 691.6,434.98 692.4,434.05 693.2,432.88 694,432.32 694.8,432.44 695.6,434.01 696.4,433.92 697.2,433.55 698,435.49 698.8,434.42 699.6,433.44 700.4,433.02 701.2,433.95 702,433.86 702.8,433.57 703.6,434.07 704.4,432.92 705.2,435.2 706,434.57 706.8,434.39 707.6,433.37 708.4,433.43 709.2,434.18 710,434.14 710.8,434.05 711.6,435.04 712.4,434.12 713.2,433.1 714,433.72 714.8,433.75 715.6,434.03 716.4,433.48 717.2,434.65 718,432.97 718.8,433.2 719.6,434.22 720.4,433.29 721.2,432.61 722,433.31 722.8,434.34 723.6,435.17 724.4,434.4 725.2,434.25 726,434.53 726.8,434.64 727.6,433.45 728.4,434.42 729.2,435.48 730,435.4 730.8,433.97 731.6,433.06 732.4,435.22 733.2,434.54 734,434.35 734.8,433.62 735.6,434.61 736.4,434.89 737.2,435.48 738,434.32 738.8,435.09 739.6,435.95 740.4,434.97 741.2,434.65 742,435.24 742.8,433.93 743.6,433.28 744.4,435.4 745.2,435.15 746,435.21 746.8,435.23 747.6,435.09 748.4,434.34 749.2,434.39 750,433.66 750.8,433.96 751.6,435.28 752.4,434.2 753.2,433.1 754,435.68 754.8,434.62 755.6,433.56 756.4,434.59 757.2,433.83 758,435.68 758.8,434.24 759.6,435.49 760.4,435.56 761.2,434.09 762,434.23 762.8,434.62 763.6,433.71 764.4,434.33 765.2,435.35 766,434 766.8,434.91 767.6,434.01 768.4,434.14 769.2,434.63 770,434.77 770.8,433.65 771.6,434.68 772.4,435.18 773.2,433.43 774,433.61 774.8,434.01 775.6,434.65 776.4,434.27 777.2,433.44 778,434.38 778.8,435.08 779.6,434.79 780.4,434.76 781.2,435.64 782,434.28 782.8,434.49 783.6,435.02 784.4,435.82 785.2,434.96 786,434.26 786.8,433.24 787.6,434.02 788.4,433.96 789.2,435.53 790,434.22 790.8,434.03 791.6,433.22 792.4,433.1 793.2,433.82 794,433.31 794.8,434.14 795.6,434.02 796.4,433.75 797.2,434.72 798,434.35 798.8,434.9 799.6,435.17 800.4,434.29 801.2,434.1 802,433.83 802.8,433.92 803.6,434.24 804.4,435.67 805.2,435.46 806,435.16 806.8,433.57 807.6,434.28 808.4,435.24 809.2,434.83 810,433.41 810.8,434.38 811.6,435.23 812.4,434.98 813.2,434.66 814,433.97 814.8,432.9 815.6,433.55 816.4,433.6 817.2,433.92 818,434.22 818.8,434.99 819.6,435.43 820.4,433.72 821.2,434 822,433.5 822.8,433.19 824,431.27 825.2,429.87 826.4,428.61 827.6,426.84 828.8,427.71 830,429.03 831.2,428.46 832.4,431.53 833.6,433.13 834.8,433.84 835.6,434.9 836.4,434.98 837.2,435.17 838,435.06 838.8,435.03 839.6,435.71 840.4,435.24 841.2,435.11 842,433.23 842.8,433.83 843.6,433.95 844.4,433.08 845.2,433.43 846,432.04 846.8,431.69 847.6,431.54 848.4,431.02 849.2,433.68 850,432.19 850.8,433.16 851.6,432.17 852.4,434.11 853.2,433.82 854,435.21 854.8,434.46 855.6,434.83 856.4,433.9 857.2,434.49 858,433.81 858.8,433.71 859.6,433.33 860.4,433.82 861.2,434.82 862,434.87 862.8,433.19 863.6,433.67 864.4,433.8 865.2,433.23 866,433.92 866.8,432.64 867.6,433.59 868.4,434.17 869.2,433.37 870,434.34 870.8,434.09 871.6,432.81 872.4,433.7 873.2,434.53 874,434.47 874.8,433.49 875.6,432.27 876.4,433.34 877.2,432.75 878,433.93 878.8,432.61 879.6,433.74 880.4,431.77 881.2,431.99 882.4,431.64 883.6,430.31 884.8,433.43 886,433.08 887.2,434.7 888.4,434.19 889.6,434.61 890.8,433.61 892,434 893.2,428 894.4,423 895.6,414 896.8,400 898,380 898.8,360 899.6,340 900.5,320 901.6,290 903,265 904,256 905.6,237 906.6,290 907.2,340 908,360 908.8,380 909.6,400 910.8,416 912,425 913.2,429 914.4,431 916,431.91 916.8,433.4 917.6,434.08 918.4,433.88 919.2,433.52 920,432.75 920.8,432.93 921.6,432.64 922.4,432.41 923.2,432.99 924,433.52 924.8,434.79 925.6,433.28 926.4,433.44 927.2,433.94 928,433.7 928.8,435.24 929.6,434.3 930.4,434.64 931.2,433.15 932,433.44 932.8,435.42 933.6,433.97 934.4,434.27 935.2,434.3 936,433.87 936.8,433.46 937.6,434.71 938.4,435.81 939.2,435.02 940,434.11 940.8,435.76 941.6,435.62 942.4,434.81 943.2,434.03 944,434.85 944.8,434.49 945.6,434.66 946.4,434.8 947.2,435.49 948,435.31 948.8,434.58 949.6,434.76 950.4,433.78 951.2,434.6 952,434.19 952.8,433.17 953.6,433.64 954.4,433.94 955.2,434.66 956,434.52 956.8,433.99 957.6,433.6 958.4,434.97 959.2,435.31 960,435.42 960.8,434.58 961.6,433.9 962.4,434 963.2,435.17 964,434.55 964.8,433.62 965.6,433.34 966.4,433.82 967.2,433.22 968,434.49 968.8,435.57 970,435.38 970.8,435.23 971.6,435.87 972.4,436.44 973.2,436.24 974,436.2 974.8,436.1 975.6,436.77 976.4,436.2 977.2,435.79 978,436.94 978.8,436.62 979.6,435.86 980.4,436 981.2,434.82 982,436.45 982.8,434.81 983.6,434.94 984.4,436.14 985.2,435.8 986,436.03 986.8,435.3 987.6,433.82 988.4,435.82 989.2,435.33 990,435.16 990.8,434.31 991.6,435.2 992.4,435.09 993.2,434.05 994,432.76 994.8,435.34 995.6,435.03 996.4,436.05 997.2,435.77 998,435.79 998.8,435.29 999.6,435.87 1000.4,435.63 1001.2,434.11 1002,435.31 1002.8,436.34 1003.6,436.55 1004.4,435.9 1005.2,434.88 1006,435.78 1006.8,435.53 1007.6,434.76 1008.4,435.47 1009.2,435.01 1010,435.25 1010.8,435.36 1011.6,435.17 1012.4,435.75 1013.2,436.85 1014,435.26 1014.8,434.37 1015.6,433.62 1016.4,434.51 1017.2,434.15 1018,435.92 1018.8,435.37 1019.6,432.45 1020.4,433.38 1021.2,434.32 1022,435.13 1022.8,435.87 1023.6,436.39 1024.4,436.3 1025.2,436.52 1026,435.88 1026.8,436.19 1027.6,434.95 1028.4,435.28 1029.2,436.73 1030,436.8 1030.8,435.14 1031.6,434.15 1032.4,434.67 1033.2,435.38 1034,435.74 1034.8,434.69 1035.6,434.24 1036.4,434.19 1037.2,434.84 1038,434.72 1038.8,436.17 1039.6,435.43 1040.4,434.33 1041.2,434.17 1042,433.54 1042.8,434.15 1043.6,435.26 1044.4,434.98 1045.2,435.7 1046,433.97 1046.8,434.52 1047.6,434.49 1048.4,436.01 1049.2,435.28 1050,436.16 1050.8,436.12 1051.6,435.64 1052.4,434.89 1053.2,435.98 1054,435.17 1054.8,434.16 1055.6,434.43 1056.4,434.84 1057.2,435.74 1058,436.33 1058.8,435.46 1059.6,434.12 1060.4,433.57 1061.2,432.33 1062,432.75 1062.8,435.15 1063.6,434.4 1064.4,435.07 1065.2,434.98 1066,435.07 1066.8,434.49 1067.6,435.35 1068.4,434.18 1069.2,432.82 1070,433.7 1070.8,434.66 1071.6,434.21 1072.4,432.95 1073.2,432.5 1074,432.83 1074.8,434.49 1075.6,434.75 1076.4,434.51 1077.2,434.18 1078,433.01 1078.8,434.41 1079.6,434.39 1080.4,433.98 1081.2,435.03 1082,433.23 1082.8,433.35 1083.6,432.25 1084.4,431.24 1085.2,432.56 1086.4,431.73 1087.6,432.91 1088.8,434.4 1090,428 1091.2,430.88 1092.4,434.11 1093.6,433.27 1094.8,433.15 1095.6,432.67 1096.4,433.83 1097.2,432.67 1098,434.5 1098.8,435.41 1099.6,434.7 1100.4,435.44 1101.2,436.41 1102,434.57 1102.8,435.94 1103.6,435.93 1104.4,436.85 1105.2,436.38 1106,435.33 1106.8,432.6 1107.6,432.75 1108.4,432.63 1109.2,432.87 1110,433.6 1110.8,432.69 1111.6,431.81 1112.4,433.77 1113.2,433.97 1114,433.25 1114.8,434.02 1115.6,434.7 1116.4,433.17 1117.2,433.67 1118,434.77 1118.8,434.78 1120.4,430.55 1121.6,433.55 1122.4,434.94 1123.2,435.26 1124,434.83 1124.8,433.28 1125.6,433.26 1126.4,433.84 1127.2,434.24 1128,434.11 1128.8,434.72 1129.6,433.18 1130.4,433.03 1131.2,432.76 1132,432.52 1132.8,433.49 1133.6,434.19 1134.4,435 1135.2,434.79 1136,436.46 1136.8,435.38 1137.6,435.27 1138.4,434.59 1139.2,434.07 1140,435.45 1140.8,435.26 1141.6,435.01 1142.4,436.22 1143.2,435.5 1144,435.06 1144.8,432.98 1145.6,433.81 1146.4,433.35 1147.2,433.25 1148,433.47 1148.8,431.86 1149.6,432.17 1150.4,434.47 1151.2,432.61 1152,432.51 1152.8,431.87 1153.6,432.79 1154.4,433.17 1155.2,434.37 1156,433 1156.8,431.86 1157.6,433.47 1158.4,432.85 1159.2,432.77 1160,434.12 1160.8,432.43 1161.6,432.52 1162.4,434.23 1163.2,433.01 1164,435.04 1164.8,434.62 1165.6,434.38 1166.4,434.49 1167.2,434.37 1168,434.52 1168.8,434.54 1169.6,435.49 1170.4,434.13 1171.2,433.34 1172,432.51 1172.8,432.22 1173.6,434.49 1174.4,434.69 1175.2,435.15 1176,435.56 1176.8,433.75 1177.6,434.55 1178.4,433.1 1179.2,431.67 1180,433.09 1180.8,433.36 1182,429.88 1183.2,434.23 1184.4,431.3 1185.6,433.34 1186.8,429.37 1187.6,428.03 1188.4,432.82 1189.6,435.43 1190.8,433.9 1192,435.59 1193.2,436.79 1194,435.84 1194.8,435.59 1195.6,437.42 1196.4,437.4 1197.2,436.75 1198,436.06 1198.8,436.97 1199.6,437.32 1200.4,437.17 1201.2,435.5 1202,437.58 1202.8,438.01 1203.6,437.07 1204.4,437.42 1205.2,437.72 1206,436.79 1206.8,437.56 1207.6,437.4 1208.4,436.3 1209.2,436.5 1210,436.1 1210.8,437.83 1211.6,437.05 1212.4,435.93 1213.2,436.71 1214,436.01 1214.8,436.91 1215.6,437.18 1216.4,437.16 1217.2,436.67 1218.4,433.89 1219.6,431.15 1220.8,433.73 1221.6,433.86 1222.4,435.79 1223.2,433.81 1224,432.4 1224.8,434.24 1225.6,432.84 1226.4,433.3 1227.2,432.38 1228,433.05 1228.8,433.95 1229.6,433.6 1230.4,434.38 1231.2,434.56 1232.32,433.71 1233.44,433.4 1234.56,434.74 1235.68,432.6 1236.8,433.03 1237.92,430.84 1238.76,429.84 1239.6,427.78 1240.44,427.29 1241.28,427.32 1242.12,424.92 1242.96,422.18 1243.8,420.72 1244.64,422.76 1245.48,425.69 1246.32,429.91 1247.16,434.24 1248,436.45 1248.84,436.07 1249.68,433 1250.52,432.88 1251.36,431.27 1252.2,433.46 1253.04,430.87 1253.88,432.37 1254.72,434.64 1255.56,435.44 1256.4,432.09 1257.24,431.12 1258.08,432.94 1258.92,430.17 1259.76,430.79 1260.6,432.22 1261.44,429.1 1262.28,433.07 1263.4,434.08 1264.52,433.94 1265.64,433.36 1266.76,435.31 1267.88,436.07 1269,435.01 1270.12,434.02 1271.24,433.95 1272.36,433.94 1273.48,433.65 1274.6,436.04 1275.72,433.67 1276.84,434.76 1277.96,432.8 1279.08,435.7 1280.2,433.34 1281.04,430.12 1281.88,427.6 1282.72,429.32 1283.56,433.1 1284.4,435.35 1285.24,436.13 1286.08,434.41 1286.92,431.63 1287.76,430.09 1288.6,433.53 1289.44,434.8 1290.56,434.5 1291.68,432.19 1292.8,433.79 1293.92,433.34 1295.04,434.34 1296.16,432.41 1297.28,434.75 1298.4,432.71 1299.52,434.86 1300.64,435.86 1301.76,434.16 1302.88,436.46 1304,434.72 1305.12,435.83 1306.24,433.81 1307.36,434.62 1308.48,436.38 1309.6,435 1310.72,433.23 1311.84,436.87 1312.96,437.83 1314.08,435.23 1315.2,432.49 1316.32,434.17 1317.16,431.7 1318,433.89 1318.84,431.28 1319.68,428.11 1320.52,428.43 1321.36,431.85 1322.2,431 1323.04,429.45 1323.88,432.2 1325,430.93 1326.12,429.37 1326.96,432.85 1327.8,431.32 1328.64,434.18 1329.48,431.3 1330.32,432.88 1331.44,434.95 1332.56,435.6 1333.68,435.28 1334.8,436.94 1335.92,434.46 1337.04,435.69 1338.16,435.92 1339.28,435.06 1340.4,432.04 1341.24,429.8 1342.08,431.68 1342.92,434.25 1344.04,435.06 1345.16,436.08 1346.28,436.08 1347.4,435.83 1348.52,436.07 1349.64,434.32 1350.76,436.83 1351.88,436.44 1353,435.22 1354.12,436.29 1354.96,434.98 1355.8,434.64 1356.64,431.78 1357.2,435.63"/>
<polyline stroke="#3CB371" points="130.8,397 131.4,391 132,387 132.8,386 133.6,387 134.4,385 135.2,380.5 135.8,384 136.6,386 137.4,385 138.2,387 139,385 139.8,388 140.4,384 141,377 141.8,375 142.6,375.5 143.4,374 144.2,376.5 145,374.5 145.6,372.5 146.4,375 147.2,372 148,371.5 148.8,375 149.6,379 150.4,383 151.2,385 152,380 152.8,377.5 153.6,381 154.4,377 155.2,380 156,376.5 156.8,379 157.6,376 158.4,380.5 159.2,378.5 160,377 160.8,380.5 161.6,382.5 162.4,385 163.2,389 164,395 164.8,401 165.4,395 166,386 166.8,380 167.6,379 168.4,382 169.2,384 170,380 170.8,377.5 171.6,381 172.4,388 173.2,395 174,400 174.6,401.5 175.2,395 175.8,385 176.6,373 177.4,363 178.2,358 178.8,356.5 179.4,359 180.2,363 181,369 181.8,375 182.6,377.5 183.4,376.5 184.2,377 185,375.5 185.8,380 186.6,381.5 187.4,379 188.2,380 189,377.5 189.8,381 190.6,384 191.4,385 192.2,387 193,384.5 193.8,383.5 194.6,385 195.4,386 196.2,387 197,385 197.8,382 198.6,379 199.4,377 200.2,375.5 201,378.5 201.8,381 202.6,385 203.4,389 204.2,392.5 205,395 205.8,396 206.6,393.5 207.4,390 208.2,386 209,382.5 209.8,380 210.6,378.5 211.4,377.5 212.2,375 212.8,370 213.4,363 214,357 214.6,351 215.2,347.5 215.8,347 216.4,350.5 217,355 217.6,358 218.2,364 218.8,369 219.6,372 220.4,374 221.2,376 222,377 222.8,380 223.6,379.5 224.4,382 225.2,385 226,387 226.8,385 227.6,383.5 228.4,384.5 229.2,382.5 230,383.5 230.8,381.5 231.6,382.5 232.4,384 233.2,382 234,378.5 234.8,374 235.6,371.5 236.4,370.5 237.2,370 238,374 238.8,378 239.6,382 240.4,382.5 241.2,382 242,385 242.8,387 243.6,389 244.4,391 245.2,389 246,387 246.8,389 247.6,391.5 248.4,392.5 249.2,388 250,380 250.8,374 251.6,373.5 252.4,377 253.2,382 254,380 254.8,379 255.6,378.5 256.4,378 257.2,377.5 258,376.5 258.8,377 259.6,376 260.4,378 261.2,376.5 262,374.5 262.8,375 263.6,379 264.4,385 265.2,390 266,393 266.8,392.5 267.6,392 268.4,391 269.2,388 270,384 270.8,380.92 271.6,380.05 272.4,378.09 273.2,377.24 274,376.41 274.8,377.6 275.6,376.43 276.4,376.55 277.2,375.69 278.4,379 279.2,364 279.8,355 280.5,340 281.2,327.6 282.2,335 283,340.35 284.2,335 285.2,345 286,352 286.8,364 288,380 289.2,387 290.8,382.61 291.6,383.13 292.4,381 293.6,387 294.8,391 296,383 297.2,375 298.4,373.23 299.6,377.68 300.8,383.02 302,377.42 303.2,376 304.4,383 306,387.87 307.2,393 308,399 309.2,391 310.4,382 311.6,378 312.8,385 314,394 315.2,400 316.4,392 317.6,383 318.4,384.56 319.2,385.21 320.4,381 321.6,375 322.8,381 324,382.81 325.2,379 326.8,373 327.6,374.1 328.4,374.52 329.2,372.91 330,373.24 330.8,372.05 331.6,370.19 332.8,374.98 334,379 335.2,373 336.4,377 337.6,390 338.8,398 340,388 341.2,377 342.4,371 343.6,375.18 344.8,380 346,372 347.2,375 348.8,369 350,364.95 351.2,364 352.4,370 353.6,378 354.8,386 356.4,392 358,386.77 359.6,383.39 361.2,378.99 362.8,373.94 364,378.02 365.6,382.78 367.2,386.54 368,387.23 368.8,388.91 369.6,388.94 370.4,388.29 371.2,385.59 372,384.41 372.8,383.79 373.6,384 375.2,387.74 376,388.6 376.8,390.28 377.6,391.38 378.4,391.41 379.2,391.98 380,392.91 380.8,390.71 381.6,391.37 382.4,390.37 383.2,390.56 384,388.62 384.8,388.65 385.6,389.6 386.4,390.54 387.2,389.5 388,390.73 388.8,390.33 389.6,389.84 390.4,388.07 391.2,388.87 392,388.06 392.8,389.97 393.6,389.91 394.4,391.58 395.2,391.27 396,393.51 397.6,398.23 398.4,395.69 399.2,396 400.8,390 402.4,384 403.2,385.05 404,385.01 405.6,389.99 406.4,391.09 407.2,391.82 408,392.93 408.8,393.36 410,391.32 410.8,389.79 411.6,388.17 412.4,389.14 413.2,388.91 414,387 414.8,385.69 415.6,383.53 416.4,383.59 417.2,383.7 418,385.36 418.8,384.03 419.6,386.74 420.8,383 422,370 423.2,352 424.4,340 425.5,300 426.3,268 427.2,250 428,262 429.5,290 431,320 432.3,340 433.2,352 434.2,370 435.4,383 436.4,386.73 437.2,388.73 438,389.76 439.6,393.84 440.8,398.92 442,404 442.8,390 443.6,378 444.4,383 445.6,373 446.8,364 448,368 449.2,377 450.8,385 452.4,390.28 453.2,390 454,391.45 454.8,392.22 455.6,393.71 456.4,392.59 457.2,392.41 458,392.23 458.8,394.37 459.6,394.07 460.4,394.96 461.2,394.66 462,395.6 462.8,395.07 463.6,394.3 464.4,392.87 465.2,390.84 466.4,394 467.6,404 468.4,390 469.2,370 470,360 471.2,358.3 472.4,363 473.6,370 474.8,382 476,387.01 477.2,390.29 478.4,386.99 479.6,383.1 480.4,383.94 481.2,384.08 482,384.38 482.8,384.85 483.6,387.02 484.4,389.05 485.2,390.22 486,391.83 486.8,392.09 487.6,393.42 488.4,392.35 489.2,391.37 490,392.98 490.8,392.88 491.6,394.55 492.4,395.6 493.2,393.48 494,391.71 494.8,393.72 495.6,393.52 496.4,395.18 497.2,395.13 498,397.12 498.8,398.04 500,394.39 501.2,388.94 502.4,387.15 503.2,388.1 504,388.82 504.8,392.93 505.6,392.08 506.4,395.05 507.2,394.48 508.4,392 509.6,404 510.4,390 511.6,370 512.8,360 514,363 515.2,372 516.4,377.08 517.2,375.71 518,375.52 519.2,374.76 520.4,378.95 522,383.35 523.6,387.16 524.4,389.29 525.2,390.04 526,392.04 526.8,393.15 528.4,388 529.6,381 530.8,377.01 532,378.82 533.2,383.16 534.8,387.82 536.4,391.9 537.2,392.39 538,393.95 539.6,390 540.8,383 542,377.95 543.2,376.76 544.4,381 545.6,387 547.2,391.18 548,390.77 548.8,393.1 549.6,393.64 550.4,393.8 551.6,390 552.8,382 554,377.94 555.2,378.67 556.4,383.12 557.2,384.13 558,385.11 558.8,385.55 559.6,386.82 560.4,388.42 561.2,389.57 562,390.26 562.8,391.1 563.6,391.53 564.4,392.05 565.2,391.72 566,390 566.8,388.85 567.6,387.46 568.4,388.97 569.2,389.27 570,388.92 570.8,389.39 571.6,388.73 572.4,388.6 573.2,388.35 574,390.37 574.8,392.15 575.6,392.77 576.4,393.76 577.2,393.39 578,394.61 578.8,393.71 579.6,393.66 580.4,394.73 581.2,396.27 582,393.42 582.8,395.14 583.6,394.48 584.4,394.9 585.2,393.62 586,392.59 586.8,393.12 587.6,394.05 588.4,394.7 589.2,394.93 590,392.64 590.8,395.28 591.6,395.46 592.4,396.41 593.2,395.91 594,396.43 594.8,395.38 595.6,396.89 596.4,397.76 597.2,397.36 598,395.73 598.8,396.25 599.6,397.25 600.4,397.44 601.2,396.94 602,395.48 602.8,397.15 603.6,396.1 604.4,397.35 605.2,396.85 606,395.94 606.8,395.34 607.6,394.88 608.4,396.58 609.2,397.04 610,397.37 610.8,397.87 611.6,397.34 612.4,395.52 613.2,393.32 614,391.54 614.8,392.13 615.6,393.98 616.4,394.05 617.2,394.92 618,394.36 618.8,393.67 619.6,393.93 620.4,395.45 621.2,394.69 622,393.39 622.8,394.89 623.6,394.16 624.4,393.06 625.2,392.26 626,392.19 626.8,392.62 627.6,393.64 628.4,394.37 629.2,395.82 630,396.8 630.8,397.05 631.6,396.81 632.4,398.01 633.2,398.26 634,399.09 634.8,398.71 635.6,398.21 636.4,397.72 637.2,398.74 638,398.15 638.8,398.83 639.6,398.47 640.4,398.69 641.2,399.31 642,398.51 642.8,397.58 643.6,398.16 644.4,399.47 645.2,400.33 646,401.01 646.8,401.23 647.6,401.81 648.4,400.42 649.2,400.19 650,398.3 650.8,396.9 651.6,396.64 652.4,396.77 653.2,396.48 654,397.41 654.8,397.6 655.6,397.44 656.4,397.14 657.2,398.47 658,397.98 658.8,396.28 659.6,398.34 660.4,398.95 661.2,398.18 662,397.76 662.8,397.86 663.6,397.99 664.4,397.33 665.2,398.06 666,397.29 666.8,398.15 667.6,398.88 668.4,397.85 669.2,398.36 670,399.5 670.8,399.06 671.6,397.46 672.4,398.11 673.2,398.24 674,396.76 674.8,397.02 675.6,397.77 676.4,397.02 677.2,397.44 678,396.64 678.8,398.76 679.6,397.9 680.4,397.91 681.2,398.81 682,398.57 682.8,397.67 683.6,398.04 684.4,399.03 685.2,398.3 686,399.4 686.8,398.52 687.6,396.71 688.4,394.08 689.2,394.35 690,394.01 690.8,394.72 691.6,395.35 692.4,395.9 693.2,397.62 694,396.63 694.8,397.51 695.6,397.61 696.4,399.1 697.2,399.3 698,398.21 698.8,398.8 699.6,399.88 700.4,401.29 701.2,400.84 702,400.09 702.8,400.05 703.6,397.84 704.4,397.85 705.2,396.92 706,395.76 706.8,396.47 707.6,398 708.8,404 710,410 711.2,414.25 712.4,411 713.6,398 714.8,390 716,387.51 717.2,388.17 718.4,391.98 719.6,397.35 720.4,397.95 721.2,399.1 722,399.88 722.8,399.8 723.6,398.6 724.4,399.32 725.2,398.87 726,400.59 726.8,400.16 727.6,397.85 728.4,399.25 729.2,398.79 730,397.34 730.8,398.39 731.6,398.13 732.4,398.12 733.2,397.71 734,397.53 734.8,399.24 735.6,399.01 736.4,398.63 737.2,398.37 738,398.04 738.8,399.41 739.6,399.27 740.4,398.68 741.2,399.65 742,398.02 742.8,398.85 743.6,399.93 744.4,399.27 745.2,400.5 746,398.23 746.8,398.08 748,396.09 749.2,396.12 750.4,397.64 751.2,398.45 752,398.48 752.8,399.26 753.6,399.71 754.4,399.01 755.2,399.56 756,399.82 756.8,399.54 757.6,399.58 758.4,399.63 759.2,397.98 760,399.34 760.8,397.99 761.6,398.93 762.4,399.81 763.2,398.99 764,399.32 764.8,398.78 765.6,398.82 766.4,399.45 767.2,398.25 768,398.69 768.8,399.11 769.6,398.99 770.4,398.77 771.2,398.1 772,399.67 772.8,399.18 773.6,399.37 774.4,398.85 775.2,397.36 776,398.17 776.8,398.91 777.6,398.45 778.8,400 780,406 781.2,410.67 782.4,410 783.6,402 784.8,399.06 786,396 787.2,390 788.4,387.27 789.6,386.98 790.8,387.64 792,390.96 792.8,391.52 793.6,393.66 794.4,395.24 795.2,396.43 796,395.66 796.8,396.96 797.6,396.45 798.4,398.64 799.2,398.41 800,400.55 800.8,398.72 801.6,399.34 802.4,400.07 803.2,401.54 804,400.36 804.8,402.14 805.6,401.4 806.4,402.44 807.2,401.03 808,400.34 808.8,399.74 809.6,397.95 811.2,393.97 812.4,392.55 813.6,392.75 814.8,394.23 816,393.86 817.2,396.24 818.8,399.88 819.6,402.79 820.4,402.76 821.6,404.23 822.8,403.28 824,399.06 825.2,395.23 826.4,394.24 827.6,394.86 828.8,394.45 830,393.87 831.2,396.35 832.4,399.1 833.2,400.85 834,399.9 834.8,401.89 835.6,402.39 836.4,403.13 837.2,403.11 838,403.53 838.8,403.66 839.6,401.82 840.4,402.9 841.2,401.13 842,400.47 842.8,400.68 843.6,401.23 844.4,399.01 845.2,399.03 846,398.95 846.8,397.13 847.6,396.11 848.4,396.91 849.2,396.6 850,397.72 850.8,398.41 851.6,398.84 852.4,399.71 853.2,400.35 854,398.94 854.8,398.98 855.6,400.04 856.4,398.89 857.2,399.96 858,400.79 858.8,399.85 859.6,400.08 860.4,400 861.2,399.3 862,399.77 862.8,401.04 863.6,398.58 864.4,399.53 865.2,399.78 866,400.66 866.8,400.61 867.6,401.38 868.8,400.07 870,394.44 871.2,392.11 872.4,393.38 873.6,395.15 874.4,396.44 875.2,398.15 876,396.82 876.8,397.33 878,400.09 879.2,403.86 880.4,406.03 881.6,403 882.8,397 884,394.26 885.2,396.13 886.4,393.73 887.6,395.03 888.8,395.72 890,393.13 891.2,394.88 892,388 892.8,372 893.6,356 894.4,340 897.2,338 898,344 899,310 900,270 901,225 902,192 903,215 904.5,250 907,300 910,350 912,380 913.2,388 914.4,392.4 916,396 917.6,398.12 918.4,398.64 919.2,399.08 920,400.72 920.8,399.99 921.6,399.71 922.4,399.89 923.2,400.02 924,400.44 924.8,400.27 925.6,399.23 926.4,398.52 927.2,398.97 928,398.79 928.8,399.63 929.6,400.41 930.4,399.3 931.2,400.15 932,400.52 932.8,400.4 933.6,400.81 934.4,402.27 935.2,401.78 936,401.2 936.8,401.25 937.6,400.56 938.4,401.03 939.2,401.06 940,402.08 940.8,401.37 941.6,401.16 942.4,401.93 943.2,400.22 944,400.51 944.8,399.54 945.6,401.12 946.4,398.94 947.2,399.78 948,400.13 948.8,400.69 949.6,400.33 950.4,401.22 951.2,402.39 952,402.21 952.8,403.03 953.6,401.69 954.4,401.53 955.2,402.62 956,401.85 956.8,402.52 957.6,403.33 958.4,402.84 959.2,402.65 960,402.92 960.8,402.61 961.6,402.27 962.4,402.86 963.2,404.17 964,405.27 964.8,403.59 965.6,404.91 966.4,403.66 967.2,402.53 968,403.01 968.8,403.18 970,402.96 970.8,402.36 971.6,402.64 972.4,401.78 973.2,400.13 974,400.73 974.8,400.07 975.6,399.48 976.4,400.71 977.2,400.19 978,399.99 978.8,400.26 979.6,401.74 980.4,399.71 981.2,401.08 982,401.76 982.8,401.52 983.6,402.72 984.4,403.53 985.6,409.05 986.8,412.36 988,411.32 989.2,406.83 990,406.33 990.8,408.03 991.6,407.53 992.4,409 993.2,408.24 994,408.07 994.8,408.75 995.6,406.61 996.4,406.06 997.2,405.14 998,405.46 998.8,404.23 999.6,404.87 1000.4,404.41 1001.2,404.25 1002,404.66 1002.8,404.4 1003.6,404.51 1004.4,404.21 1005.2,404.72 1006,404.06 1006.8,404.98 1007.6,405.42 1008.4,403.86 1009.2,403.7 1010,404.44 1010.8,403.43 1011.6,403.22 1012.4,402.96 1013.2,404.04 1014,405.98 1014.8,404.49 1015.6,405.23 1016.4,403.46 1017.2,405.97 1018,406.61 1018.8,406.36 1019.6,407.96 1020.8,410 1022,404 1023.2,401.21 1024.4,400.12 1025.2,400.82 1026,400.67 1026.8,402.04 1027.6,402.92 1028.4,404.53 1029.2,403.65 1030,402.28 1030.8,401.81 1031.6,403.06 1032.4,403.81 1033.2,404.68 1034,404.97 1034.8,404.39 1035.6,403.64 1036.4,404.85 1037.2,404.6 1038,404.39 1038.8,403.84 1039.6,403.72 1040.4,403.72 1041.2,404.45 1042,404.54 1042.8,403.84 1043.6,402.39 1044.4,402.89 1045.2,401.58 1046,401.73 1046.8,402.56 1047.6,402.29 1048.4,400.73 1049.6,401.93 1050.8,404.47 1052,407.18 1053.2,404.02 1054.4,398.62 1055.6,394.33 1056.8,390.79 1058,390.82 1059.2,393.49 1060.4,396.35 1061.6,398.47 1062.8,399.01 1064,399.46 1065.2,401.11 1066,401.12 1066.8,402.18 1067.6,404.11 1068.4,404.62 1069.2,405.12 1070,406.35 1070.8,407.38 1071.6,408.49 1072.4,409.77 1073.2,409.8 1074,409.45 1074.8,410.6 1075.6,410.45 1076.4,410.7 1077.2,410.96 1078,410.64 1078.8,409.29 1079.6,408.23 1080.4,407.64 1081.2,408.25 1082,406.75 1082.8,404.76 1083.6,404.1 1084.4,402.4 1085.2,402.32 1086,402.9 1086.8,403.05 1087.6,403.33 1088.4,403.53 1089.2,405.33 1090,405.02 1090.8,405.34 1091.6,404.52 1092.4,404.53 1093.2,404.57 1094,401.41 1094.8,401.19 1095.6,400.89 1096.4,399.9 1097.2,400.76 1098,401.21 1098.8,402.24 1099.6,404.41 1100.4,404.98 1101.6,400.35 1102.8,401.88 1103.6,403.13 1104.4,403.69 1105.2,404.52 1106,404.96 1106.8,403.34 1107.6,403.55 1108.4,402.91 1109.2,402.63 1110,402.37 1110.8,401.6 1111.6,401.2 1112.4,401.39 1113.2,399.84 1114,402.4 1114.8,401.96 1115.6,403.09 1116.4,402.38 1117.2,401.35 1118,403.22 1118.8,404.5 1119.6,406.06 1120.4,406.16 1121.2,405.37 1122,403.95 1122.8,406.27 1123.6,404.19 1124.4,403.7 1125.2,403.8 1126,403.99 1126.8,405.17 1127.6,404.48 1128.4,403.27 1129.2,403.75 1130,405.04 1130.8,405.06 1131.6,405.95 1132.4,406.09 1133.2,407.54 1134,407.85 1134.8,407.47 1135.6,408.71 1136.4,409.31 1137.2,409.24 1138,410.79 1138.8,412.12 1139.6,412.52 1140.8,407.91 1142,403.24 1143.2,405.07 1144.4,401.88 1145.6,398.73 1146.8,399.54 1148,399.74 1149.2,403.64 1150.4,405.86 1151.6,409.92 1152.4,406 1153.2,398 1154.4,392.72 1155.6,392.65 1156.8,394.22 1158,394.25 1159.2,394.66 1160.4,397.17 1161.6,399.62 1162.8,402.16 1163.6,401.63 1164.4,402.14 1165.2,403 1166,403.31 1166.8,404.29 1167.6,404.37 1168.4,404.92 1169.2,404.22 1170,404.59 1170.8,405.39 1171.6,405.16 1172.4,405.63 1173.2,406.18 1174,406.16 1174.8,405.35 1175.6,404.66 1176.4,405.07 1177.2,405.89 1178,405.73 1178.8,405.28 1179.6,406.94 1180.4,405.99 1181.2,405.42 1182,405.54 1182.8,405.08 1183.6,404.01 1184.4,406.37 1185.2,407.15 1186,408.12 1186.8,408.47 1188,414 1189.2,422 1190.4,430 1191.6,434.14 1192.8,433 1194,426 1195.2,420 1196.4,420.75 1197.6,425 1198.4,426.58 1199.2,426.8 1200,425.93 1200.8,425.49 1201.6,424.83 1202.4,423.89 1203.2,422 1204,420.33 1204.8,420.45 1205.6,417.27 1206.4,416.37 1207.2,414.95 1208,414.59 1208.8,413.19 1209.6,413.71 1210.4,412.11 1211.2,410.52 1212,410.38 1212.8,409.73 1213.6,409.33 1214.4,408.73 1215.2,409.37 1216,409.53 1216.8,407.78 1217.6,407.31 1218.4,407.51 1219.2,407.57 1220,406.13 1220.8,406.6 1221.6,405.22 1222.4,405.9 1223.2,406.13 1224,406.39 1224.8,407.29 1225.6,407.83 1226.4,408.43 1227.2,408.7 1228,409.08 1228.8,409.72 1229.6,409.87 1231.2,409.23 1232.04,406.43 1232.88,404.48 1233.72,403.92 1234.56,407.8 1235.4,414.8 1236.24,419.5 1237.08,416.2 1237.64,405 1238.2,391 1239.04,381.2 1239.88,375.6 1240.72,373.51 1241.56,375.88 1242.4,379.65 1243.24,380.76 1244.08,382.8 1244.92,386.89 1245.76,390.92 1246.6,394.25 1247.44,397.29 1248.28,400.24 1249.12,402.84 1249.96,404.79 1250.8,406.81 1251.64,408.66 1252.48,411.47 1253.32,413.81 1254.16,412.2 1255,409.01 1255.84,410.75 1256.68,413.49 1257.52,412.49 1258.64,413.38 1259.76,410.62 1260.88,410.45 1262,409.95 1263.12,410.58 1264.24,410.18 1265.36,409.43 1266.48,411.02 1267.6,409.65 1268.72,408.41 1269.84,411.23 1270.96,411.76 1272.08,411.3 1273.2,410.03 1274.32,407.57 1275.16,406.12 1276,409.02 1277.12,408.55 1278.24,408.38 1279.36,409.87 1280.48,407.79 1281.6,411.71 1282.72,412.5 1283.84,410.91 1284.96,407.93 1286.08,408.5 1287.2,410 1288.32,409.99 1289.44,411.47 1290.56,409.65 1291.68,409.87 1292.8,411.3 1293.92,410.18 1295.04,412.18 1296.16,414.03 1297.28,415.15 1298.4,414.76 1299.52,416.28"/>
</g>
<g shape-rendering="crispEdges">
<line x1="158.5" y1="435" x2="158.5" y2="438" stroke="#808080"/>
<line x1="185.5" y1="432" x2="185.5" y2="438" stroke="#000"/>
<line x1="213.5" y1="435" x2="213.5" y2="438" stroke="#808080"/>
<line x1="241.5" y1="435" x2="241.5" y2="438" stroke="#808080"/>
<line x1="269.5" y1="435" x2="269.5" y2="438" stroke="#808080"/>
<line x1="297.5" y1="435" x2="297.5" y2="438" stroke="#808080"/>
<line x1="325.5" y1="432" x2="325.5" y2="438" stroke="#000"/>
<line x1="353.5" y1="435" x2="353.5" y2="438" stroke="#808080"/>
<line x1="381.5" y1="435" x2="381.5" y2="438" stroke="#808080"/>
<line x1="409.5" y1="435" x2="409.5" y2="438" stroke="#808080"/>
<line x1="437.5" y1="435" x2="437.5" y2="438" stroke="#808080"/>
<line x1="464.5" y1="432" x2="464.5" y2="438" stroke="#000"/>
<line x1="492.5" y1="435" x2="492.5" y2="438" stroke="#808080"/>
<line x1="520.5" y1="435" x2="520.5" y2="438" stroke="#808080"/>
<line x1="548.5" y1="435" x2="548.5" y2="438" stroke="#808080"/>
<line x1="576.5" y1="435" x2="576.5" y2="438" stroke="#808080"/>
<line x1="604.5" y1="432" x2="604.5" y2="438" stroke="#000"/>
<line x1="632.5" y1="435" x2="632.5" y2="438" stroke="#808080"/>
<line x1="660.5" y1="435" x2="660.5" y2="438" stroke="#808080"/>
<line x1="688.5" y1="435" x2="688.5" y2="438" stroke="#808080"/>
<line x1="716.5" y1="435" x2="716.5" y2="438" stroke="#808080"/>
<line x1="743.5" y1="432" x2="743.5" y2="438" stroke="#000"/>
<line x1="771.5" y1="435" x2="771.5" y2="438" stroke="#808080"/>
<line x1="799.5" y1="435" x2="799.5" y2="438" stroke="#808080"/>
<line x1="827.5" y1="435" x2="827.5" y2="438" stroke="#808080"/>
<line x1="855.5" y1="435" x2="855.5" y2="438" stroke="#808080"/>
<line x1="883.5" y1="432" x2="883.5" y2="438" stroke="#000"/>
<line x1="911.5" y1="435" x2="911.5" y2="438" stroke="#808080"/>
<line x1="939.5" y1="435" x2="939.5" y2="438" stroke="#808080"/>
<line x1="967.5" y1="435" x2="967.5" y2="438" stroke="#808080"/>
<line x1="995.5" y1="435" x2="995.5" y2="438" stroke="#808080"/>
<line x1="1022.5" y1="432" x2="1022.5" y2="438" stroke="#000"/>
<line x1="1050.5" y1="435" x2="1050.5" y2="438" stroke="#808080"/>
<line x1="1078.5" y1="435" x2="1078.5" y2="438" stroke="#808080"/>
<line x1="1106.5" y1="435" x2="1106.5" y2="438" stroke="#808080"/>
<line x1="1134.5" y1="435" x2="1134.5" y2="438" stroke="#808080"/>
<line x1="1162.5" y1="432" x2="1162.5" y2="438" stroke="#000"/>
<line x1="1190.5" y1="435" x2="1190.5" y2="438" stroke="#808080"/>
<line x1="1218.5" y1="435" x2="1218.5" y2="438" stroke="#808080"/>
<line x1="1246.5" y1="435" x2="1246.5" y2="438" stroke="#808080"/>
<line x1="1274.5" y1="435" x2="1274.5" y2="438" stroke="#808080"/>
<line x1="1301.5" y1="432" x2="1301.5" y2="438" stroke="#000"/>
<line x1="1329.5" y1="435" x2="1329.5" y2="438" stroke="#808080"/>
<line x1="131" y1="427.5" x2="134" y2="427.5" stroke="#808080"/>
<line x1="131" y1="416.5" x2="134" y2="416.5" stroke="#808080"/>
<line x1="131" y1="405.5" x2="134" y2="405.5" stroke="#808080"/>
<line x1="131" y1="394.5" x2="134" y2="394.5" stroke="#808080"/>
<line x1="131" y1="383.5" x2="137" y2="383.5" stroke="#000"/>
<line x1="131" y1="372.5" x2="134" y2="372.5" stroke="#808080"/>
<line x1="131" y1="361.5" x2="134" y2="361.5" stroke="#808080"/>
<line x1="131" y1="350.5" x2="134" y2="350.5" stroke="#808080"/>
<line x1="131" y1="340.5" x2="134" y2="340.5" stroke="#808080"/>
<line x1="131" y1="329.5" x2="137" y2="329.5" stroke="#000"/>
<line x1="131" y1="318.5" x2="134" y2="318.5" stroke="#808080"/>
<line x1="131" y1="307.5" x2="134" y2="307.5" stroke="#808080"/>
<line x1="131" y1="296.5" x2="134" y2="296.5" stroke="#808080"/>
<line x1="131" y1="285.5" x2="134" y2="285.5" stroke="#808080"/>
<line x1="131" y1="274.5" x2="137" y2="274.5" stroke="#000"/>
<line x1="131" y1="263.5" x2="134" y2="263.5" stroke="#808080"/>
<line x1="131" y1="252.5" x2="134" y2="252.5" stroke="#808080"/>
<line x1="131" y1="241.5" x2="134" y2="241.5" stroke="#808080"/>
<line x1="131" y1="231.5" x2="134" y2="231.5" stroke="#808080"/>
<line x1="131" y1="220.5" x2="137" y2="220.5" stroke="#000"/>
<line x1="131" y1="209.5" x2="134" y2="209.5" stroke="#808080"/>
<line x1="131" y1="198.5" x2="134" y2="198.5" stroke="#808080"/>
<line x1="131" y1="187.5" x2="134" y2="187.5" stroke="#808080"/>
<line x1="131" y1="176.5" x2="134" y2="176.5" stroke="#808080"/>
<line x1="131" y1="165.5" x2="137" y2="165.5" stroke="#000"/>
<line x1="131" y1="154.5" x2="134" y2="154.5" stroke="#808080"/>
<line x1="131" y1="143.5" x2="134" y2="143.5" stroke="#808080"/>
<line x1="131" y1="133.5" x2="134" y2="133.5" stroke="#808080"/>
<line x1="131" y1="122.5" x2="134" y2="122.5" stroke="#808080"/>
<line x1="131" y1="111.5" x2="137" y2="111.5" stroke="#000"/>
<line x1="131" y1="100.5" x2="134" y2="100.5" stroke="#808080"/>
<line x1="131" y1="89.5" x2="134" y2="89.5" stroke="#808080"/>
<line x1="131" y1="78.5" x2="134" y2="78.5" stroke="#808080"/>
<line x1="131" y1="67.5" x2="134" y2="67.5" stroke="#808080"/>
</g>
<rect x="130.5" y="56.5" width="1227" height="382" fill="none" stroke="#000" stroke-width="1" shape-rendering="crispEdges"/>
<text class="tk tky" x="127.2" y="443.0" text-anchor="end">0</text>
<text class="tk tky" x="127.2" y="388.6" text-anchor="end">1E-13</text>
<text class="tk tky" x="127.2" y="334.1" text-anchor="end">2E-13</text>
<text class="tk tky" x="127.2" y="279.6" text-anchor="end">3E-13</text>
<text class="tk tky" x="127.2" y="225.2" text-anchor="end">4E-13</text>
<text class="tk tky" x="127.2" y="170.8" text-anchor="end">5E-13</text>
<text class="tk tky" x="127.2" y="116.3" text-anchor="end">6E-13</text>
<text class="tk tky" x="127.2" y="61.8" text-anchor="end">7E-13</text>
<text class="tk" x="185.5" y="450.5" text-anchor="middle">4000</text>
<text class="tk" x="325.5" y="450.5" text-anchor="middle">4500</text>
<text class="tk" x="464.5" y="450.5" text-anchor="middle">5000</text>
<text class="tk" x="604.5" y="450.5" text-anchor="middle">5500</text>
<text class="tk" x="743.5" y="450.5" text-anchor="middle">6000</text>
<text class="tk" x="883.5" y="450.5" text-anchor="middle">6500</text>
<text class="tk" x="1022.5" y="450.5" text-anchor="middle">7000</text>
<text class="tk" x="1162.5" y="450.5" text-anchor="middle">7500</text>
<text class="tk" x="1301.5" y="450.5" text-anchor="middle">8000</text>
<text x="743.5" y="475.5" text-anchor="middle" style="font-size:13px">Wavelength (Angstrom)</text>
<text x="67" y="246.2" text-anchor="middle" transform="rotate(-90 67 246.2)" style="font-size:13.1px">Relative intensity</text>
<text x="705.5" y="37.8" text-anchor="middle" style="font-size:14px;font-weight:bold">TBohlsen</text>
<line x1="1125" y1="78" x2="1147" y2="78" stroke="#2F4F4F" stroke-width="2" shape-rendering="crispEdges"/>
<text class="lg" x="1152" y="83" textLength="151" lengthAdjust="spacingAndGlyphs" xml:space="preserve">ASASSN-20ni  2020-11-03.430</text>
<line x1="1125" y1="92" x2="1147" y2="92" stroke="#1E90FF" stroke-width="2" shape-rendering="crispEdges"/>
<text class="lg" x="1152" y="97" textLength="151" lengthAdjust="spacingAndGlyphs" xml:space="preserve">ASASSN-20ni  2020-11-06.435</text>
<line x1="1125" y1="106" x2="1147" y2="106" stroke="#DA70D6" stroke-width="2" shape-rendering="crispEdges"/>
<text class="lg" x="1152" y="111" textLength="151" lengthAdjust="spacingAndGlyphs" xml:space="preserve">ASASSN-20ni  2020-12-01.429</text>
<line x1="1125" y1="120" x2="1147" y2="120" stroke="#3CB371" stroke-width="2" shape-rendering="crispEdges"/>
<text class="lg" x="1152" y="125" textLength="141.7" lengthAdjust="spacingAndGlyphs" xml:space="preserve">N SMC2020  2020-11-02.459</text>
</svg>
</body></html>
